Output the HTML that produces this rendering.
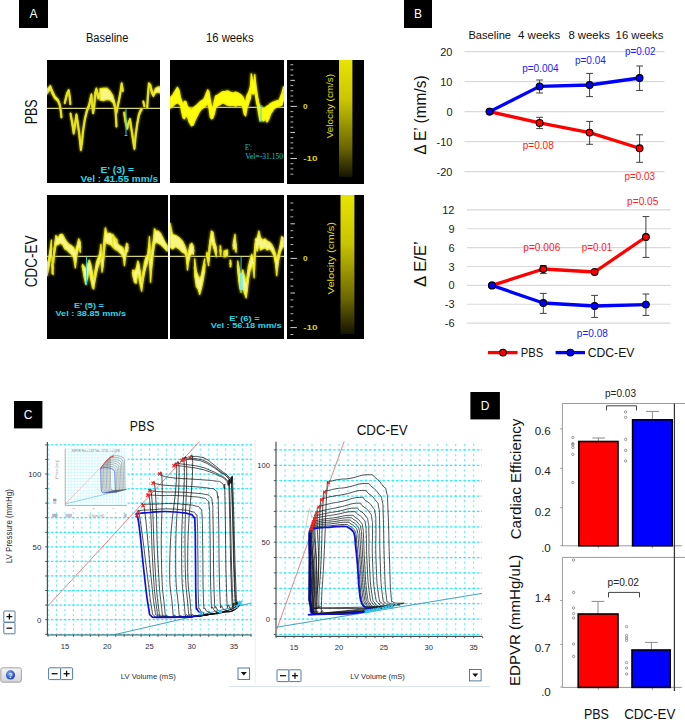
<!DOCTYPE html>
<html><head><meta charset="utf-8"><title>Figure</title>
<style>html,body{margin:0;padding:0;background:#fff;width:685px;height:720px;overflow:hidden}svg{display:block}text{font-family:"Liberation Sans",sans-serif}</style>
</head><body>
<svg width="685" height="720" viewBox="0 0 685 720" font-family="'Liberation Sans', sans-serif"><defs>
<filter id="blur0" filterUnits="userSpaceOnUse" x="0" y="0" width="685" height="720"><feGaussianBlur stdDeviation="0.35"/></filter>
<filter id="blur1" filterUnits="userSpaceOnUse" x="0" y="0" width="685" height="720"><feGaussianBlur stdDeviation="0.8"/></filter>
<linearGradient id="g1" x1="0" y1="0" x2="0" y2="1"><stop offset="0" stop-color="#e8e400"/><stop offset="0.35" stop-color="#c8c400"/><stop offset="0.75" stop-color="#6a6600"/><stop offset="1" stop-color="#141400"/></linearGradient>
<linearGradient id="g2" x1="0" y1="0" x2="0" y2="1"><stop offset="0" stop-color="#e8e400"/><stop offset="0.35" stop-color="#c8c400"/><stop offset="0.75" stop-color="#6a6600"/><stop offset="1" stop-color="#141400"/></linearGradient>
</defs><rect x="19" y="0" width="29" height="28" fill="#000" />
<text x="33.5" y="18.32" font-size="12" fill="#fff" text-anchor="middle" font-weight="normal">A</text>
<text x="86" y="42.4" font-size="12" fill="#111" text-anchor="start" font-weight="normal" textLength="42.4" lengthAdjust="spacingAndGlyphs">Baseline</text>
<text x="206" y="42.4" font-size="12" fill="#111" text-anchor="start" font-weight="normal" textLength="47.6" lengthAdjust="spacingAndGlyphs">16 weeks</text>
<text x="37.2" y="124.3" font-size="17" fill="#111" text-anchor="start" font-weight="normal" textLength="25" lengthAdjust="spacingAndGlyphs" transform="rotate(-90 37.2 124.3)">PBS</text>
<text x="37.2" y="287.2" font-size="17" fill="#111" text-anchor="start" font-weight="normal" textLength="51.8" lengthAdjust="spacingAndGlyphs" transform="rotate(-90 37.2 287.2)">CDC-EV</text>
<rect x="47" y="60" width="113" height="123" fill="#000" />
<svg x="47" y="60" width="113" height="123" overflow="hidden"><g transform="translate(-47,-60)">
<line x1="47" y1="108.3" x2="160" y2="108.3" stroke="#d4d47c" stroke-width="1.2" />
<path d="M47.00,89.44 50.33,85.56 52.00,89.72 54.78,95.83 58.11,99.44 59.78,104.17 60.89,111.00 61.44,116.78 L61.44,117.67 60.89,112.33 59.78,105.83 58.11,101.67 54.78,98.61 52.00,93.61 50.33,88.89 47.00,93.89 Z" fill="#9a9400" stroke="#9a9400" stroke-width="2.6" stroke-linejoin="round" stroke-linecap="round" filter="url(#blur1)" opacity="0.85"/>
<path d="M64.78,101.94 67.00,92.78 68.67,89.72 69.78,96.39 70.33,103.33 L70.33,104.44 69.78,98.06 68.67,91.39 67.00,95.00 64.78,103.61 Z" fill="#9a9400" stroke="#9a9400" stroke-width="2.6" stroke-linejoin="round" stroke-linecap="round" filter="url(#blur1)" opacity="0.85"/>
<path d="M70.56,113.06 72.56,123.33 73.67,131.39 75.33,121.39 76.44,113.89 77.56,120.56 79.22,132.50 80.33,142.22 80.89,148.33 82.00,140.56 83.11,129.44 84.78,118.33 87.00,109.44 89.22,103.89 90.33,98.33 91.44,93.89 92.00,101.94 93.11,111.94 94.22,105.00 95.33,91.11 96.44,88.06 98.11,95.56 100.33,91.67 102.56,89.44 107.00,88.89 L107.00,98.89 102.56,96.11 100.33,96.11 98.11,98.89 96.44,90.83 95.33,94.44 94.22,107.22 93.11,113.61 92.00,103.61 91.44,96.11 90.33,100.56 89.22,106.11 87.00,111.67 84.78,120.56 83.11,131.67 82.00,142.78 80.89,150.56 80.33,145.56 79.22,135.28 77.56,122.78 76.44,116.11 75.33,124.17 73.67,134.17 72.56,126.67 70.56,114.72 Z" fill="#9a9400" stroke="#9a9400" stroke-width="2.6" stroke-linejoin="round" stroke-linecap="round" filter="url(#blur1)" opacity="0.85"/>
<path d="M100.00,88.89 103.33,88.33 106.67,88.33 110.00,91.11 112.78,95.56 114.44,101.67 115.56,109.17 116.11,118.33 116.44,125.28 L116.44,126.94 116.11,120.56 115.56,111.94 114.44,106.11 112.78,102.22 110.00,100.00 106.67,99.44 103.33,100.56 100.00,100.00 Z" fill="#9a9400" stroke="#9a9400" stroke-width="2.6" stroke-linejoin="round" stroke-linecap="round" filter="url(#blur1)" opacity="0.85"/>
<path d="M116.67,110.56 117.22,106.94 118.89,99.44 120.56,90.56 121.67,82.78 122.78,89.72 L122.78,91.39 121.67,85.00 120.56,92.78 118.89,101.67 117.22,109.72 116.67,112.78 Z" fill="#9a9400" stroke="#9a9400" stroke-width="2.6" stroke-linejoin="round" stroke-linecap="round" filter="url(#blur1)" opacity="0.85"/>
<path d="M124.22,112.11 125.56,120.83 127.22,127.50 128.33,123.22 130.00,118.61 131.67,129.44 133.33,140.28 134.44,147.22 135.56,135.00 137.22,122.78 138.89,113.89 140.56,109.44 141.67,108.61 L141.67,110.28 140.56,111.67 138.89,116.11 137.22,125.00 135.56,137.22 134.44,149.44 133.33,143.06 131.67,131.67 130.00,120.28 128.33,124.56 127.22,129.17 125.56,122.50 124.22,113.44 Z" fill="#9a9400" stroke="#9a9400" stroke-width="2.6" stroke-linejoin="round" stroke-linecap="round" filter="url(#blur1)" opacity="0.85"/>
<path d="M143.33,101.22 144.44,105.67 L144.44,106.56 143.33,102.11 Z" fill="#9a9400" stroke="#9a9400" stroke-width="2.6" stroke-linejoin="round" stroke-linecap="round" filter="url(#blur1)" opacity="0.85"/>
<path d="M147.22,106.67 147.78,96.39 148.89,82.78 150.56,84.72 151.67,90.00 153.33,93.61 155.56,88.33 158.89,86.67 160.56,87.78 L160.56,93.33 158.89,92.22 155.56,92.78 153.33,96.39 151.67,93.33 150.56,87.50 148.89,85.00 147.78,98.06 147.22,107.78 Z" fill="#9a9400" stroke="#9a9400" stroke-width="2.6" stroke-linejoin="round" stroke-linecap="round" filter="url(#blur1)" opacity="0.85"/>
<polyline points="47.00,91.67 50.33,87.22 52.00,91.67 54.78,97.22 58.11,100.56 59.78,105.00 60.89,111.67 61.44,117.22" fill="none" stroke="#d8d41c" stroke-width="2.2" stroke-linejoin="round" stroke-linecap="round" filter="url(#blur0)"/>
<path d="M47.00,89.44 50.33,85.56 52.00,89.72 54.78,95.83 58.11,99.44 59.78,104.17 60.89,111.00 61.44,116.78 L61.44,117.67 60.89,112.33 59.78,105.83 58.11,101.67 54.78,98.61 52.00,93.61 50.33,88.89 47.00,93.89 Z" fill="#f8f680" stroke="#e8e41e" stroke-width="1.2" stroke-linejoin="round" stroke-linecap="round" filter="url(#blur0)"/>
<polyline points="64.78,102.78 67.00,93.89 68.67,90.56 69.78,97.22 70.33,103.89" fill="none" stroke="#d8d41c" stroke-width="2.2" stroke-linejoin="round" stroke-linecap="round" filter="url(#blur0)"/>
<path d="M64.78,101.94 67.00,92.78 68.67,89.72 69.78,96.39 70.33,103.33 L70.33,104.44 69.78,98.06 68.67,91.39 67.00,95.00 64.78,103.61 Z" fill="#f8f680" stroke="#e8e41e" stroke-width="1.2" stroke-linejoin="round" stroke-linecap="round" filter="url(#blur0)"/>
<polyline points="70.56,113.89 72.56,125.00 73.67,132.78 75.33,122.78 76.44,115.00 77.56,121.67 79.22,133.89 80.33,143.89 80.89,149.44 82.00,141.67 83.11,130.56 84.78,119.44 87.00,110.56 89.22,105.00 90.33,99.44 91.44,95.00 92.00,102.78 93.11,112.78 94.22,106.11 95.33,92.78 96.44,89.44 98.11,97.22 100.33,93.89 102.56,92.78 107.00,93.89" fill="none" stroke="#d8d41c" stroke-width="2.2" stroke-linejoin="round" stroke-linecap="round" filter="url(#blur0)"/>
<path d="M70.56,113.06 72.56,123.33 73.67,131.39 75.33,121.39 76.44,113.89 77.56,120.56 79.22,132.50 80.33,142.22 80.89,148.33 82.00,140.56 83.11,129.44 84.78,118.33 87.00,109.44 89.22,103.89 90.33,98.33 91.44,93.89 92.00,101.94 93.11,111.94 94.22,105.00 95.33,91.11 96.44,88.06 98.11,95.56 100.33,91.67 102.56,89.44 107.00,88.89 L107.00,98.89 102.56,96.11 100.33,96.11 98.11,98.89 96.44,90.83 95.33,94.44 94.22,107.22 93.11,113.61 92.00,103.61 91.44,96.11 90.33,100.56 89.22,106.11 87.00,111.67 84.78,120.56 83.11,131.67 82.00,142.78 80.89,150.56 80.33,145.56 79.22,135.28 77.56,122.78 76.44,116.11 75.33,124.17 73.67,134.17 72.56,126.67 70.56,114.72 Z" fill="#f8f680" stroke="#e8e41e" stroke-width="1.2" stroke-linejoin="round" stroke-linecap="round" filter="url(#blur0)"/>
<polyline points="100.00,94.44 103.33,94.44 106.67,93.89 110.00,95.56 112.78,98.89 114.44,103.89 115.56,110.56 116.11,119.44 116.44,126.11" fill="none" stroke="#d8d41c" stroke-width="2.2" stroke-linejoin="round" stroke-linecap="round" filter="url(#blur0)"/>
<path d="M100.00,88.89 103.33,88.33 106.67,88.33 110.00,91.11 112.78,95.56 114.44,101.67 115.56,109.17 116.11,118.33 116.44,125.28 L116.44,126.94 116.11,120.56 115.56,111.94 114.44,106.11 112.78,102.22 110.00,100.00 106.67,99.44 103.33,100.56 100.00,100.00 Z" fill="#f8f680" stroke="#e8e41e" stroke-width="1.2" stroke-linejoin="round" stroke-linecap="round" filter="url(#blur0)"/>
<polyline points="116.67,111.67 117.22,108.33 118.89,100.56 120.56,91.67 121.67,83.89 122.78,90.56" fill="none" stroke="#d8d41c" stroke-width="2.2" stroke-linejoin="round" stroke-linecap="round" filter="url(#blur0)"/>
<path d="M116.67,110.56 117.22,106.94 118.89,99.44 120.56,90.56 121.67,82.78 122.78,89.72 L122.78,91.39 121.67,85.00 120.56,92.78 118.89,101.67 117.22,109.72 116.67,112.78 Z" fill="#f8f680" stroke="#e8e41e" stroke-width="1.2" stroke-linejoin="round" stroke-linecap="round" filter="url(#blur0)"/>
<polyline points="124.22,112.78 125.56,121.67 127.22,128.33 128.33,123.89 130.00,119.44 131.67,130.56 133.33,141.67 134.44,148.33 135.56,136.11 137.22,123.89 138.89,115.00 140.56,110.56 141.67,109.44" fill="none" stroke="#d8d41c" stroke-width="2.2" stroke-linejoin="round" stroke-linecap="round" filter="url(#blur0)"/>
<path d="M124.22,112.11 125.56,120.83 127.22,127.50 128.33,123.22 130.00,118.61 131.67,129.44 133.33,140.28 134.44,147.22 135.56,135.00 137.22,122.78 138.89,113.89 140.56,109.44 141.67,108.61 L141.67,110.28 140.56,111.67 138.89,116.11 137.22,125.00 135.56,137.22 134.44,149.44 133.33,143.06 131.67,131.67 130.00,120.28 128.33,124.56 127.22,129.17 125.56,122.50 124.22,113.44 Z" fill="#f8f680" stroke="#e8e41e" stroke-width="1.2" stroke-linejoin="round" stroke-linecap="round" filter="url(#blur0)"/>
<polyline points="143.33,101.67 144.44,106.11" fill="none" stroke="#d8d41c" stroke-width="2.2" stroke-linejoin="round" stroke-linecap="round" filter="url(#blur0)"/>
<path d="M143.33,101.22 144.44,105.67 L144.44,106.56 143.33,102.11 Z" fill="#f8f680" stroke="#e8e41e" stroke-width="1.2" stroke-linejoin="round" stroke-linecap="round" filter="url(#blur0)"/>
<polyline points="147.22,107.22 147.78,97.22 148.89,83.89 150.56,86.11 151.67,91.67 153.33,95.00 155.56,90.56 158.89,89.44 160.56,90.56" fill="none" stroke="#d8d41c" stroke-width="2.2" stroke-linejoin="round" stroke-linecap="round" filter="url(#blur0)"/>
<path d="M147.22,106.67 147.78,96.39 148.89,82.78 150.56,84.72 151.67,90.00 153.33,93.61 155.56,88.33 158.89,86.67 160.56,87.78 L160.56,93.33 158.89,92.22 155.56,92.78 153.33,96.39 151.67,93.33 150.56,87.50 148.89,85.00 147.78,98.06 147.22,107.78 Z" fill="#f8f680" stroke="#e8e41e" stroke-width="1.2" stroke-linejoin="round" stroke-linecap="round" filter="url(#blur0)"/>
</g></svg>
<rect x="170" y="60" width="114" height="123" fill="#000" />
<svg x="170" y="60" width="114" height="123" overflow="hidden"><g transform="translate(-170,-60)">
<line x1="170" y1="107.4" x2="284" y2="107.4" stroke="#d4d47c" stroke-width="1.2" />
<path d="M170.00,97.77 172.63,95.14 175.25,90.76 177.44,87.26 179.19,90.76 180.51,97.77 181.82,101.27 183.13,103.90 184.45,101.27 185.76,101.27 187.51,106.52 189.26,108.27 191.45,109.15 193.20,108.27 194.96,106.52 197.15,104.77 198.90,103.02 200.65,101.27 202.40,100.39 204.15,98.64 205.90,94.26 207.65,89.89 208.97,91.64 210.28,99.52 211.59,106.52 212.91,107.40 214.22,101.27 215.53,96.02 217.72,95.14 219.91,93.39 222.54,91.64 225.17,91.64 227.63,90.83 230.25,92.15 232.88,93.02 235.51,92.15 238.13,93.02 240.76,94.77 242.51,96.52 244.26,100.03 245.58,101.78 246.89,95.65 248.64,92.15 250.39,86.89 251.27,73.76 252.58,79.89 253.90,82.51 254.77,74.63 256.09,86.89 257.40,95.65 258.71,102.65 260.03,106.16 261.78,107.91 263.53,108.78 265.28,107.91 267.03,106.16 268.78,105.28 270.53,103.53 272.29,102.65 274.04,101.78 276.66,100.90 279.29,100.03 281.92,93.02 283.49,86.89 L283.49,100.03 281.92,105.28 279.29,106.16 276.66,107.03 274.04,108.78 272.29,111.41 270.53,114.04 268.78,119.29 267.03,121.92 265.28,119.29 263.53,121.04 261.78,120.17 260.03,121.04 258.71,114.04 257.40,106.16 256.09,100.03 254.77,91.27 253.90,93.90 252.58,93.90 251.27,91.27 250.39,98.27 248.64,103.53 246.89,108.78 245.58,115.79 244.26,114.04 242.51,106.16 240.76,105.28 238.13,105.28 235.51,106.16 232.88,105.28 230.25,105.72 227.63,105.28 225.17,103.90 222.54,103.02 219.91,104.77 217.72,105.65 215.53,108.27 214.22,114.40 212.91,117.91 211.59,118.78 210.28,117.03 208.97,108.27 207.65,103.90 205.90,105.65 204.15,107.40 202.40,108.27 200.65,110.03 198.90,112.65 197.15,116.16 194.96,120.53 193.20,124.91 191.45,125.79 189.26,122.29 187.51,117.03 185.76,116.16 184.45,118.78 183.13,117.91 181.82,112.65 180.51,105.65 179.19,103.90 177.44,103.02 175.25,103.90 172.63,106.52 170.00,108.27 Z" fill="#9a9400" stroke="#9a9400" stroke-width="2.6" stroke-linejoin="round" stroke-linecap="round" filter="url(#blur1)" opacity="0.85"/>
<polyline points="170.00,103.02 172.63,100.83 175.25,97.33 177.44,95.14 179.19,97.33 180.51,101.71 181.82,106.96 183.13,110.90 184.45,110.03 185.76,108.71 187.51,111.78 189.26,115.28 191.45,117.47 193.20,116.59 194.96,113.53 197.15,110.46 198.90,107.84 200.65,105.65 202.40,104.33 204.15,103.02 205.90,99.96 207.65,96.89 208.97,99.96 210.28,108.27 211.59,112.65 212.91,112.65 214.22,107.84 215.53,102.15 217.72,100.39 219.91,99.08 222.54,97.33 225.17,97.77 227.63,98.06 230.25,98.93 232.88,99.15 235.51,99.15 238.13,99.15 240.76,100.03 242.51,101.34 244.26,107.03 245.58,108.78 246.89,102.22 248.64,97.84 250.39,92.58 251.27,82.51 252.58,86.89 253.90,88.20 254.77,82.95 256.09,93.46 257.40,100.90 258.71,108.35 260.03,113.60 261.78,114.04 263.53,114.91 265.28,113.60 267.03,114.04 268.78,112.29 270.53,108.78 272.29,107.03 274.04,105.28 276.66,103.97 279.29,103.09 281.92,99.15 283.49,93.46" fill="none" stroke="#e8e400" stroke-width="2.2" stroke-linejoin="round" stroke-linecap="round" filter="url(#blur0)"/>
<path d="M170.00,97.77 172.63,95.14 175.25,90.76 177.44,87.26 179.19,90.76 180.51,97.77 181.82,101.27 183.13,103.90 184.45,101.27 185.76,101.27 187.51,106.52 189.26,108.27 191.45,109.15 193.20,108.27 194.96,106.52 197.15,104.77 198.90,103.02 200.65,101.27 202.40,100.39 204.15,98.64 205.90,94.26 207.65,89.89 208.97,91.64 210.28,99.52 211.59,106.52 212.91,107.40 214.22,101.27 215.53,96.02 217.72,95.14 219.91,93.39 222.54,91.64 225.17,91.64 227.63,90.83 230.25,92.15 232.88,93.02 235.51,92.15 238.13,93.02 240.76,94.77 242.51,96.52 244.26,100.03 245.58,101.78 246.89,95.65 248.64,92.15 250.39,86.89 251.27,73.76 252.58,79.89 253.90,82.51 254.77,74.63 256.09,86.89 257.40,95.65 258.71,102.65 260.03,106.16 261.78,107.91 263.53,108.78 265.28,107.91 267.03,106.16 268.78,105.28 270.53,103.53 272.29,102.65 274.04,101.78 276.66,100.90 279.29,100.03 281.92,93.02 283.49,86.89 L283.49,100.03 281.92,105.28 279.29,106.16 276.66,107.03 274.04,108.78 272.29,111.41 270.53,114.04 268.78,119.29 267.03,121.92 265.28,119.29 263.53,121.04 261.78,120.17 260.03,121.04 258.71,114.04 257.40,106.16 256.09,100.03 254.77,91.27 253.90,93.90 252.58,93.90 251.27,91.27 250.39,98.27 248.64,103.53 246.89,108.78 245.58,115.79 244.26,114.04 242.51,106.16 240.76,105.28 238.13,105.28 235.51,106.16 232.88,105.28 230.25,105.72 227.63,105.28 225.17,103.90 222.54,103.02 219.91,104.77 217.72,105.65 215.53,108.27 214.22,114.40 212.91,117.91 211.59,118.78 210.28,117.03 208.97,108.27 207.65,103.90 205.90,105.65 204.15,107.40 202.40,108.27 200.65,110.03 198.90,112.65 197.15,116.16 194.96,120.53 193.20,124.91 191.45,125.79 189.26,122.29 187.51,117.03 185.76,116.16 184.45,118.78 183.13,117.91 181.82,112.65 180.51,105.65 179.19,103.90 177.44,103.02 175.25,103.90 172.63,106.52 170.00,108.27 Z" fill="#fcfc08" stroke="#f4f000" stroke-width="1.2" stroke-linejoin="round" stroke-linecap="round" filter="url(#blur0)"/>
</g></svg>
<rect x="47" y="195" width="121" height="144" fill="#000" />
<svg x="47" y="195" width="121" height="144" overflow="hidden"><g transform="translate(-47,-195)">
<line x1="47" y1="256.4" x2="168" y2="256.4" stroke="#d4d47c" stroke-width="1.2" />
<path d="M47.00,264.44 48.67,258.89 50.33,247.78 51.44,240.00 L51.44,256.67 50.33,258.89 48.67,268.89 47.00,275.56 Z" fill="#9a9400" stroke="#9a9400" stroke-width="2.6" stroke-linejoin="round" stroke-linecap="round" filter="url(#blur1)" opacity="0.85"/>
<path d="M52.00,256.67 53.11,262.22 L53.11,274.44 52.00,273.33 Z" fill="#9a9400" stroke="#9a9400" stroke-width="2.6" stroke-linejoin="round" stroke-linecap="round" filter="url(#blur1)" opacity="0.85"/>
<path d="M53.67,253.33 54.22,247.78 55.89,235.56 58.11,237.78 60.33,234.44 62.56,234.44 64.78,238.89 67.00,242.22 69.22,244.44 71.44,245.56 73.67,247.78 75.33,251.11 77.00,245.56 78.67,238.89 80.33,242.22 L80.33,252.22 78.67,247.78 77.00,254.44 75.33,267.78 73.67,257.78 71.44,254.44 69.22,252.22 67.00,250.00 64.78,248.89 62.56,244.44 60.33,243.33 58.11,244.44 55.89,245.56 54.22,255.56 53.67,262.22 Z" fill="#9a9400" stroke="#9a9400" stroke-width="2.6" stroke-linejoin="round" stroke-linecap="round" filter="url(#blur1)" opacity="0.85"/>
<path d="M82.56,264.44 84.22,266.67 85.89,268.89 87.56,264.44 89.22,260.00 90.89,264.44 92.56,273.33 93.67,280.00 94.78,272.22 96.44,262.22 98.11,257.78 99.78,253.33 100.89,244.44 102.00,258.89 103.11,253.33 104.22,236.67 105.33,227.78 107.00,233.33 110.33,233.33 113.67,236.67 117.00,240.00 L117.00,250.00 113.67,247.78 110.33,244.44 107.00,243.33 105.33,242.22 104.22,253.33 103.11,266.67 102.00,272.22 100.89,256.67 99.78,262.22 98.11,266.67 96.44,273.33 94.78,282.22 93.67,288.89 92.56,287.78 90.89,280.00 89.22,271.11 87.56,277.78 85.89,284.44 84.22,277.78 82.56,267.78 Z" fill="#9a9400" stroke="#9a9400" stroke-width="2.6" stroke-linejoin="round" stroke-linecap="round" filter="url(#blur1)" opacity="0.85"/>
<path d="M112.78,234.44 115.00,238.89 117.22,243.33 119.44,245.56 121.67,246.67 123.33,248.89 124.44,253.33 125.56,247.78 126.67,243.33 127.78,244.44 L127.78,251.11 126.67,252.22 125.56,256.67 124.44,265.56 123.33,257.78 121.67,254.44 119.44,252.22 117.22,250.00 115.00,248.89 112.78,244.44 Z" fill="#9a9400" stroke="#9a9400" stroke-width="2.6" stroke-linejoin="round" stroke-linecap="round" filter="url(#blur1)" opacity="0.85"/>
<path d="M132.78,270.00 134.44,271.11 136.11,268.89 137.78,261.11 138.89,263.33 140.56,273.33 141.67,282.22 142.78,273.33 144.44,262.22 146.11,256.67 147.78,254.44 149.44,236.67 150.56,257.78 151.67,251.11 153.33,240.00 154.44,228.89 156.11,231.11 158.33,231.11 160.56,233.33 162.78,237.78 165.00,242.22 167.22,245.56 L167.22,251.11 165.00,248.89 162.78,246.67 160.56,244.44 158.33,243.33 156.11,242.22 154.44,244.44 153.33,253.33 151.67,268.89 150.56,282.22 149.44,253.33 147.78,262.22 146.11,266.67 144.44,273.33 142.78,282.22 141.67,291.11 140.56,286.67 138.89,277.78 137.78,274.44 136.11,283.33 134.44,282.22 132.78,275.56 Z" fill="#9a9400" stroke="#9a9400" stroke-width="2.6" stroke-linejoin="round" stroke-linecap="round" filter="url(#blur1)" opacity="0.85"/>
<polyline points="47.00,270.00 48.67,263.89 50.33,253.33 51.44,248.33" fill="none" stroke="#d8d41c" stroke-width="2.2" stroke-linejoin="round" stroke-linecap="round" filter="url(#blur0)"/>
<path d="M47.00,264.44 48.67,258.89 50.33,247.78 51.44,240.00 L51.44,256.67 50.33,258.89 48.67,268.89 47.00,275.56 Z" fill="#f8f680" stroke="#e8e41e" stroke-width="1.2" stroke-linejoin="round" stroke-linecap="round" filter="url(#blur0)"/>
<polyline points="52.00,265.00 53.11,268.33" fill="none" stroke="#d8d41c" stroke-width="2.2" stroke-linejoin="round" stroke-linecap="round" filter="url(#blur0)"/>
<path d="M52.00,256.67 53.11,262.22 L53.11,274.44 52.00,273.33 Z" fill="#f8f680" stroke="#e8e41e" stroke-width="1.2" stroke-linejoin="round" stroke-linecap="round" filter="url(#blur0)"/>
<polyline points="53.67,257.78 54.22,251.67 55.89,240.56 58.11,241.11 60.33,238.89 62.56,239.44 64.78,243.89 67.00,246.11 69.22,248.33 71.44,250.00 73.67,252.78 75.33,259.44 77.00,250.00 78.67,243.33 80.33,247.22" fill="none" stroke="#d8d41c" stroke-width="2.2" stroke-linejoin="round" stroke-linecap="round" filter="url(#blur0)"/>
<path d="M53.67,253.33 54.22,247.78 55.89,235.56 58.11,237.78 60.33,234.44 62.56,234.44 64.78,238.89 67.00,242.22 69.22,244.44 71.44,245.56 73.67,247.78 75.33,251.11 77.00,245.56 78.67,238.89 80.33,242.22 L80.33,252.22 78.67,247.78 77.00,254.44 75.33,267.78 73.67,257.78 71.44,254.44 69.22,252.22 67.00,250.00 64.78,248.89 62.56,244.44 60.33,243.33 58.11,244.44 55.89,245.56 54.22,255.56 53.67,262.22 Z" fill="#f8f680" stroke="#e8e41e" stroke-width="1.2" stroke-linejoin="round" stroke-linecap="round" filter="url(#blur0)"/>
<polyline points="82.56,266.11 84.22,272.22 85.89,276.67 87.56,271.11 89.22,265.56 90.89,272.22 92.56,280.56 93.67,284.44 94.78,277.22 96.44,267.78 98.11,262.22 99.78,257.78 100.89,250.56 102.00,265.56 103.11,260.00 104.22,245.00 105.33,235.00 107.00,238.33 110.33,238.89 113.67,242.22 117.00,245.00" fill="none" stroke="#d8d41c" stroke-width="2.2" stroke-linejoin="round" stroke-linecap="round" filter="url(#blur0)"/>
<path d="M82.56,264.44 84.22,266.67 85.89,268.89 87.56,264.44 89.22,260.00 90.89,264.44 92.56,273.33 93.67,280.00 94.78,272.22 96.44,262.22 98.11,257.78 99.78,253.33 100.89,244.44 102.00,258.89 103.11,253.33 104.22,236.67 105.33,227.78 107.00,233.33 110.33,233.33 113.67,236.67 117.00,240.00 L117.00,250.00 113.67,247.78 110.33,244.44 107.00,243.33 105.33,242.22 104.22,253.33 103.11,266.67 102.00,272.22 100.89,256.67 99.78,262.22 98.11,266.67 96.44,273.33 94.78,282.22 93.67,288.89 92.56,287.78 90.89,280.00 89.22,271.11 87.56,277.78 85.89,284.44 84.22,277.78 82.56,267.78 Z" fill="#f8f680" stroke="#e8e41e" stroke-width="1.2" stroke-linejoin="round" stroke-linecap="round" filter="url(#blur0)"/>
<polyline points="112.78,239.44 115.00,243.89 117.22,246.67 119.44,248.89 121.67,250.56 123.33,253.33 124.44,259.44 125.56,252.22 126.67,247.78 127.78,247.78" fill="none" stroke="#d8d41c" stroke-width="2.2" stroke-linejoin="round" stroke-linecap="round" filter="url(#blur0)"/>
<path d="M112.78,234.44 115.00,238.89 117.22,243.33 119.44,245.56 121.67,246.67 123.33,248.89 124.44,253.33 125.56,247.78 126.67,243.33 127.78,244.44 L127.78,251.11 126.67,252.22 125.56,256.67 124.44,265.56 123.33,257.78 121.67,254.44 119.44,252.22 117.22,250.00 115.00,248.89 112.78,244.44 Z" fill="#f8f680" stroke="#e8e41e" stroke-width="1.2" stroke-linejoin="round" stroke-linecap="round" filter="url(#blur0)"/>
<polyline points="132.78,272.78 134.44,276.67 136.11,276.11 137.78,267.78 138.89,270.56 140.56,280.00 141.67,286.67 142.78,277.78 144.44,267.78 146.11,261.67 147.78,258.33 149.44,245.00 150.56,270.00 151.67,260.00 153.33,246.67 154.44,236.67 156.11,236.67 158.33,237.22 160.56,238.89 162.78,242.22 165.00,245.56 167.22,248.33" fill="none" stroke="#d8d41c" stroke-width="2.2" stroke-linejoin="round" stroke-linecap="round" filter="url(#blur0)"/>
<path d="M132.78,270.00 134.44,271.11 136.11,268.89 137.78,261.11 138.89,263.33 140.56,273.33 141.67,282.22 142.78,273.33 144.44,262.22 146.11,256.67 147.78,254.44 149.44,236.67 150.56,257.78 151.67,251.11 153.33,240.00 154.44,228.89 156.11,231.11 158.33,231.11 160.56,233.33 162.78,237.78 165.00,242.22 167.22,245.56 L167.22,251.11 165.00,248.89 162.78,246.67 160.56,244.44 158.33,243.33 156.11,242.22 154.44,244.44 153.33,253.33 151.67,268.89 150.56,282.22 149.44,253.33 147.78,262.22 146.11,266.67 144.44,273.33 142.78,282.22 141.67,291.11 140.56,286.67 138.89,277.78 137.78,274.44 136.11,283.33 134.44,282.22 132.78,275.56 Z" fill="#f8f680" stroke="#e8e41e" stroke-width="1.2" stroke-linejoin="round" stroke-linecap="round" filter="url(#blur0)"/>
</g></svg>
<rect x="170" y="195" width="114" height="144" fill="#000" />
<svg x="170" y="195" width="114" height="144" overflow="hidden"><g transform="translate(-170,-195)">
<line x1="170" y1="256.4" x2="284" y2="256.4" stroke="#d4d47c" stroke-width="1.2" />
<path d="M170.00,223.33 170.78,226.67 172.44,234.44 175.78,235.56 179.11,237.78 182.44,241.11 184.67,245.56 186.33,250.00 187.44,256.67 188.56,251.11 190.22,244.44 191.89,243.33 193.56,246.67 L193.56,254.44 191.89,253.33 190.22,255.56 188.56,262.22 187.44,270.00 186.33,256.67 184.67,253.33 182.44,252.22 179.11,248.89 175.78,246.67 172.44,248.89 170.78,247.78 170.00,246.67 Z" fill="#9a9400" stroke="#9a9400" stroke-width="2.6" stroke-linejoin="round" stroke-linecap="round" filter="url(#blur1)" opacity="0.85"/>
<path d="M194.67,258.89 196.33,271.11 198.00,275.56 199.67,278.89 201.33,275.56 203.00,266.67 204.67,258.89 L204.67,271.11 203.00,281.11 201.33,288.89 199.67,294.44 198.00,288.89 196.33,286.67 194.67,275.56 Z" fill="#9a9400" stroke="#9a9400" stroke-width="2.6" stroke-linejoin="round" stroke-linecap="round" filter="url(#blur1)" opacity="0.85"/>
<path d="M206.89,252.22 208.56,256.67 209.67,242.22 211.33,231.11 213.00,232.22 214.67,242.22 216.33,247.78 L216.33,256.67 214.67,251.11 213.00,245.56 211.33,242.22 209.67,251.11 208.56,265.56 206.89,256.67 Z" fill="#9a9400" stroke="#9a9400" stroke-width="2.6" stroke-linejoin="round" stroke-linecap="round" filter="url(#blur1)" opacity="0.85"/>
<path d="M220.22,245.56 220.78,247.78 L220.78,255.56 220.22,254.44 Z" fill="#9a9400" stroke="#9a9400" stroke-width="2.6" stroke-linejoin="round" stroke-linecap="round" filter="url(#blur1)" opacity="0.85"/>
<path d="M224.11,251.11 226.89,251.11 L226.89,255.56 224.11,256.67 Z" fill="#9a9400" stroke="#9a9400" stroke-width="2.6" stroke-linejoin="round" stroke-linecap="round" filter="url(#blur1)" opacity="0.85"/>
<path d="M230.22,260.00 230.78,261.11 L230.78,266.67 230.22,266.67 Z" fill="#9a9400" stroke="#9a9400" stroke-width="2.6" stroke-linejoin="round" stroke-linecap="round" filter="url(#blur1)" opacity="0.85"/>
<path d="M225.00,251.11 227.22,250.00 L227.22,255.56 225.00,256.67 Z" fill="#9a9400" stroke="#9a9400" stroke-width="2.6" stroke-linejoin="round" stroke-linecap="round" filter="url(#blur1)" opacity="0.85"/>
<path d="M233.33,242.22 235.00,234.44 236.11,245.56 L236.11,252.22 235.00,248.89 233.33,248.89 Z" fill="#9a9400" stroke="#9a9400" stroke-width="2.6" stroke-linejoin="round" stroke-linecap="round" filter="url(#blur1)" opacity="0.85"/>
<path d="M237.78,261.11 238.89,266.67 240.00,273.33 241.11,272.22 242.78,270.00 244.44,275.56 246.11,282.22 247.22,275.56 248.33,266.67 250.00,260.00 251.67,254.44 252.78,256.67 254.11,262.22 254.78,248.89 255.56,238.89 257.22,237.78 258.89,231.11 260.56,237.78 262.78,240.00 265.00,238.89 267.22,241.11 269.44,242.22 271.67,244.44 273.89,248.89 275.56,254.44 276.67,258.89 278.33,253.33 280.00,245.56 281.67,236.67 283.33,237.78 L283.33,246.67 281.67,248.89 280.00,253.33 278.33,262.22 276.67,275.56 275.56,264.44 273.89,255.56 271.67,251.11 269.44,248.89 267.22,250.00 265.00,247.78 262.78,248.89 260.56,250.00 258.89,245.56 257.22,251.11 255.56,248.89 254.78,256.67 254.11,277.78 252.78,264.44 251.67,266.67 250.00,271.11 248.33,280.00 247.22,291.11 246.11,297.78 244.44,293.33 242.78,286.67 241.11,292.22 240.00,288.89 238.89,282.22 237.78,270.00 Z" fill="#9a9400" stroke="#9a9400" stroke-width="2.6" stroke-linejoin="round" stroke-linecap="round" filter="url(#blur1)" opacity="0.85"/>
<polyline points="170.00,235.00 170.78,237.22 172.44,241.67 175.78,241.11 179.11,243.33 182.44,246.67 184.67,249.44 186.33,253.33 187.44,263.33 188.56,256.67 190.22,250.00 191.89,248.33 193.56,250.56" fill="none" stroke="#d8d41c" stroke-width="2.2" stroke-linejoin="round" stroke-linecap="round" filter="url(#blur0)"/>
<path d="M170.00,223.33 170.78,226.67 172.44,234.44 175.78,235.56 179.11,237.78 182.44,241.11 184.67,245.56 186.33,250.00 187.44,256.67 188.56,251.11 190.22,244.44 191.89,243.33 193.56,246.67 L193.56,254.44 191.89,253.33 190.22,255.56 188.56,262.22 187.44,270.00 186.33,256.67 184.67,253.33 182.44,252.22 179.11,248.89 175.78,246.67 172.44,248.89 170.78,247.78 170.00,246.67 Z" fill="#f8f680" stroke="#e8e41e" stroke-width="1.2" stroke-linejoin="round" stroke-linecap="round" filter="url(#blur0)"/>
<polyline points="194.67,267.22 196.33,278.89 198.00,282.22 199.67,286.67 201.33,282.22 203.00,273.89 204.67,265.00" fill="none" stroke="#d8d41c" stroke-width="2.2" stroke-linejoin="round" stroke-linecap="round" filter="url(#blur0)"/>
<path d="M194.67,258.89 196.33,271.11 198.00,275.56 199.67,278.89 201.33,275.56 203.00,266.67 204.67,258.89 L204.67,271.11 203.00,281.11 201.33,288.89 199.67,294.44 198.00,288.89 196.33,286.67 194.67,275.56 Z" fill="#f8f680" stroke="#e8e41e" stroke-width="1.2" stroke-linejoin="round" stroke-linecap="round" filter="url(#blur0)"/>
<polyline points="206.89,254.44 208.56,261.11 209.67,246.67 211.33,236.67 213.00,238.89 214.67,246.67 216.33,252.22" fill="none" stroke="#d8d41c" stroke-width="2.2" stroke-linejoin="round" stroke-linecap="round" filter="url(#blur0)"/>
<path d="M206.89,252.22 208.56,256.67 209.67,242.22 211.33,231.11 213.00,232.22 214.67,242.22 216.33,247.78 L216.33,256.67 214.67,251.11 213.00,245.56 211.33,242.22 209.67,251.11 208.56,265.56 206.89,256.67 Z" fill="#f8f680" stroke="#e8e41e" stroke-width="1.2" stroke-linejoin="round" stroke-linecap="round" filter="url(#blur0)"/>
<polyline points="220.22,250.00 220.78,251.67" fill="none" stroke="#d8d41c" stroke-width="2.2" stroke-linejoin="round" stroke-linecap="round" filter="url(#blur0)"/>
<path d="M220.22,245.56 220.78,247.78 L220.78,255.56 220.22,254.44 Z" fill="#f8f680" stroke="#e8e41e" stroke-width="1.2" stroke-linejoin="round" stroke-linecap="round" filter="url(#blur0)"/>
<polyline points="224.11,253.89 226.89,253.33" fill="none" stroke="#d8d41c" stroke-width="2.2" stroke-linejoin="round" stroke-linecap="round" filter="url(#blur0)"/>
<path d="M224.11,251.11 226.89,251.11 L226.89,255.56 224.11,256.67 Z" fill="#f8f680" stroke="#e8e41e" stroke-width="1.2" stroke-linejoin="round" stroke-linecap="round" filter="url(#blur0)"/>
<polyline points="230.22,263.33 230.78,263.89" fill="none" stroke="#d8d41c" stroke-width="2.2" stroke-linejoin="round" stroke-linecap="round" filter="url(#blur0)"/>
<path d="M230.22,260.00 230.78,261.11 L230.78,266.67 230.22,266.67 Z" fill="#f8f680" stroke="#e8e41e" stroke-width="1.2" stroke-linejoin="round" stroke-linecap="round" filter="url(#blur0)"/>
<polyline points="225.00,253.89 227.22,252.78" fill="none" stroke="#d8d41c" stroke-width="2.2" stroke-linejoin="round" stroke-linecap="round" filter="url(#blur0)"/>
<path d="M225.00,251.11 227.22,250.00 L227.22,255.56 225.00,256.67 Z" fill="#f8f680" stroke="#e8e41e" stroke-width="1.2" stroke-linejoin="round" stroke-linecap="round" filter="url(#blur0)"/>
<polyline points="233.33,245.56 235.00,241.67 236.11,248.89" fill="none" stroke="#d8d41c" stroke-width="2.2" stroke-linejoin="round" stroke-linecap="round" filter="url(#blur0)"/>
<path d="M233.33,242.22 235.00,234.44 236.11,245.56 L236.11,252.22 235.00,248.89 233.33,248.89 Z" fill="#f8f680" stroke="#e8e41e" stroke-width="1.2" stroke-linejoin="round" stroke-linecap="round" filter="url(#blur0)"/>
<polyline points="237.78,265.56 238.89,274.44 240.00,281.11 241.11,282.22 242.78,278.33 244.44,284.44 246.11,290.00 247.22,283.33 248.33,273.33 250.00,265.56 251.67,260.56 252.78,260.56 254.11,270.00 254.78,252.78 255.56,243.89 257.22,244.44 258.89,238.33 260.56,243.89 262.78,244.44 265.00,243.33 267.22,245.56 269.44,245.56 271.67,247.78 273.89,252.22 275.56,259.44 276.67,267.22 278.33,257.78 280.00,249.44 281.67,242.78 283.33,242.22" fill="none" stroke="#d8d41c" stroke-width="2.2" stroke-linejoin="round" stroke-linecap="round" filter="url(#blur0)"/>
<path d="M237.78,261.11 238.89,266.67 240.00,273.33 241.11,272.22 242.78,270.00 244.44,275.56 246.11,282.22 247.22,275.56 248.33,266.67 250.00,260.00 251.67,254.44 252.78,256.67 254.11,262.22 254.78,248.89 255.56,238.89 257.22,237.78 258.89,231.11 260.56,237.78 262.78,240.00 265.00,238.89 267.22,241.11 269.44,242.22 271.67,244.44 273.89,248.89 275.56,254.44 276.67,258.89 278.33,253.33 280.00,245.56 281.67,236.67 283.33,237.78 L283.33,246.67 281.67,248.89 280.00,253.33 278.33,262.22 276.67,275.56 275.56,264.44 273.89,255.56 271.67,251.11 269.44,248.89 267.22,250.00 265.00,247.78 262.78,248.89 260.56,250.00 258.89,245.56 257.22,251.11 255.56,248.89 254.78,256.67 254.11,277.78 252.78,264.44 251.67,266.67 250.00,271.11 248.33,280.00 247.22,291.11 246.11,297.78 244.44,293.33 242.78,286.67 241.11,292.22 240.00,288.89 238.89,282.22 237.78,270.00 Z" fill="#f8f680" stroke="#e8e41e" stroke-width="1.2" stroke-linejoin="round" stroke-linecap="round" filter="url(#blur0)"/>
</g></svg>
<line x1="126" y1="108.5" x2="126" y2="135.5" stroke="#28d8e8" stroke-width="0.9" />
<line x1="124.5" y1="135.5" x2="127.5" y2="135.5" stroke="#28d8e8" stroke-width="0.9" />
<line x1="261" y1="106" x2="261" y2="121" stroke="#28d8e8" stroke-width="0.9" />
<line x1="259.5" y1="106" x2="262.5" y2="106" stroke="#28d8e8" stroke-width="0.9" />
<line x1="259.5" y1="121" x2="262.5" y2="121" stroke="#28d8e8" stroke-width="0.9" />
<line x1="86.5" y1="256.4" x2="86.5" y2="285" stroke="#28d8e8" stroke-width="0.9" />
<line x1="241.1" y1="256.7" x2="241.1" y2="292.8" stroke="#1aa8b0" stroke-width="1.2" />
<rect x="240.2" y="273" width="2.6" height="17" fill="#80f0e0" />
<text x="100.6" y="173.1" font-size="8.2" fill="#28d8e8" text-anchor="start" font-weight="bold" textLength="33.5" lengthAdjust="spacingAndGlyphs">E' (3) =</text>
<text x="80.5" y="181.7" font-size="8.2" fill="#28d8e8" text-anchor="start" font-weight="bold" textLength="77.5" lengthAdjust="spacingAndGlyphs">Vel : 41.55 mm/s</text>
<text x="245" y="150" font-size="8.4" fill="#10c8d0" text-anchor="start" font-weight="normal" textLength="7" lengthAdjust="spacingAndGlyphs" style="font-family:'Liberation Serif',serif">E':</text>
<text x="245.2" y="159.1" font-size="8.4" fill="#10c8d0" text-anchor="start" font-weight="normal" textLength="38" lengthAdjust="spacingAndGlyphs" style="font-family:'Liberation Serif',serif">Vel=-31.150</text>
<text x="74" y="307.9" font-size="7.4" fill="#28d8e8" text-anchor="start" font-weight="bold" textLength="29.9" lengthAdjust="spacingAndGlyphs">E' (5) =</text>
<text x="55.5" y="316" font-size="7.2" fill="#28d8e8" text-anchor="start" font-weight="bold" textLength="70.5" lengthAdjust="spacingAndGlyphs">Vel : 38.85 mm/s</text>
<text x="229.2" y="320.5" font-size="7.4" fill="#28d8e8" text-anchor="start" font-weight="bold" textLength="30.6" lengthAdjust="spacingAndGlyphs">E' (6) =</text>
<text x="210.8" y="328.4" font-size="7.4" fill="#28d8e8" text-anchor="start" font-weight="bold" textLength="70.9" lengthAdjust="spacingAndGlyphs">Vel : 56.18 mm/s</text>
<rect x="287" y="60" width="77" height="124" fill="#000" />
<rect x="339" y="60" width="13.399999999999977" height="117" fill="url(#g1)" />
<line x1="290.4" y1="64.72" x2="293.29999999999995" y2="64.72" stroke="#b8b8b8" stroke-width="1" />
<line x1="290.4" y1="69.93" x2="293.29999999999995" y2="69.93" stroke="#b8b8b8" stroke-width="1" />
<line x1="290.4" y1="75.14000000000001" x2="293.29999999999995" y2="75.14000000000001" stroke="#b8b8b8" stroke-width="1" />
<line x1="290.4" y1="80.35000000000001" x2="295.0" y2="80.35000000000001" stroke="#d0d0d0" stroke-width="1" />
<line x1="290.4" y1="85.56" x2="293.29999999999995" y2="85.56" stroke="#b8b8b8" stroke-width="1" />
<line x1="290.4" y1="90.77000000000001" x2="293.29999999999995" y2="90.77000000000001" stroke="#b8b8b8" stroke-width="1" />
<line x1="290.4" y1="95.98" x2="293.29999999999995" y2="95.98" stroke="#b8b8b8" stroke-width="1" />
<line x1="290.4" y1="101.19000000000001" x2="293.29999999999995" y2="101.19000000000001" stroke="#b8b8b8" stroke-width="1" />
<line x1="290.4" y1="106.4" x2="296.9" y2="106.4" stroke="#d0d0d0" stroke-width="1" />
<line x1="290.4" y1="111.61" x2="293.29999999999995" y2="111.61" stroke="#b8b8b8" stroke-width="1" />
<line x1="290.4" y1="116.82000000000001" x2="293.29999999999995" y2="116.82000000000001" stroke="#b8b8b8" stroke-width="1" />
<line x1="290.4" y1="122.03" x2="293.29999999999995" y2="122.03" stroke="#b8b8b8" stroke-width="1" />
<line x1="290.4" y1="127.24000000000001" x2="293.29999999999995" y2="127.24000000000001" stroke="#b8b8b8" stroke-width="1" />
<line x1="290.4" y1="132.45000000000002" x2="295.0" y2="132.45000000000002" stroke="#d0d0d0" stroke-width="1" />
<line x1="290.4" y1="137.66" x2="293.29999999999995" y2="137.66" stroke="#b8b8b8" stroke-width="1" />
<line x1="290.4" y1="142.87" x2="293.29999999999995" y2="142.87" stroke="#b8b8b8" stroke-width="1" />
<line x1="290.4" y1="148.08" x2="293.29999999999995" y2="148.08" stroke="#b8b8b8" stroke-width="1" />
<line x1="290.4" y1="153.29000000000002" x2="293.29999999999995" y2="153.29000000000002" stroke="#b8b8b8" stroke-width="1" />
<line x1="290.4" y1="158.5" x2="296.9" y2="158.5" stroke="#d0d0d0" stroke-width="1" />
<line x1="290.4" y1="163.71" x2="293.29999999999995" y2="163.71" stroke="#b8b8b8" stroke-width="1" />
<line x1="290.4" y1="168.92000000000002" x2="293.29999999999995" y2="168.92000000000002" stroke="#b8b8b8" stroke-width="1" />
<line x1="290.4" y1="174.13" x2="293.29999999999995" y2="174.13" stroke="#b8b8b8" stroke-width="1" />
<text x="303" y="108.9" font-size="7.2" fill="#dcd800" text-anchor="start" font-weight="bold" textLength="4.6" lengthAdjust="spacingAndGlyphs">0</text>
<text x="303.3" y="161.0" font-size="7.2" fill="#dcd800" text-anchor="start" font-weight="bold" textLength="14.3" lengthAdjust="spacingAndGlyphs">-10</text>
<text x="332.6" y="138.3" font-size="8.6" fill="#e0dc10" text-anchor="start" font-weight="normal" textLength="64.4" lengthAdjust="spacingAndGlyphs" transform="rotate(-90 332.6 138.3)">Velocity (cm/s)</text>
<rect x="287" y="195" width="77" height="144" fill="#000" />
<rect x="340.5" y="195" width="13.899999999999977" height="139" fill="url(#g2)" />
<line x1="290.4" y1="203.03999999999996" x2="293.29999999999995" y2="203.03999999999996" stroke="#b8b8b8" stroke-width="1" />
<line x1="290.4" y1="209.95999999999998" x2="293.29999999999995" y2="209.95999999999998" stroke="#b8b8b8" stroke-width="1" />
<line x1="290.4" y1="216.88" x2="293.29999999999995" y2="216.88" stroke="#b8b8b8" stroke-width="1" />
<line x1="290.4" y1="223.79999999999998" x2="295.0" y2="223.79999999999998" stroke="#d0d0d0" stroke-width="1" />
<line x1="290.4" y1="230.71999999999997" x2="293.29999999999995" y2="230.71999999999997" stroke="#b8b8b8" stroke-width="1" />
<line x1="290.4" y1="237.64" x2="293.29999999999995" y2="237.64" stroke="#b8b8b8" stroke-width="1" />
<line x1="290.4" y1="244.55999999999997" x2="293.29999999999995" y2="244.55999999999997" stroke="#b8b8b8" stroke-width="1" />
<line x1="290.4" y1="251.48" x2="293.29999999999995" y2="251.48" stroke="#b8b8b8" stroke-width="1" />
<line x1="290.4" y1="258.4" x2="296.9" y2="258.4" stroke="#d0d0d0" stroke-width="1" />
<line x1="290.4" y1="265.32" x2="293.29999999999995" y2="265.32" stroke="#b8b8b8" stroke-width="1" />
<line x1="290.4" y1="272.23999999999995" x2="293.29999999999995" y2="272.23999999999995" stroke="#b8b8b8" stroke-width="1" />
<line x1="290.4" y1="279.15999999999997" x2="293.29999999999995" y2="279.15999999999997" stroke="#b8b8b8" stroke-width="1" />
<line x1="290.4" y1="286.08" x2="293.29999999999995" y2="286.08" stroke="#b8b8b8" stroke-width="1" />
<line x1="290.4" y1="293.0" x2="295.0" y2="293.0" stroke="#d0d0d0" stroke-width="1" />
<line x1="290.4" y1="299.91999999999996" x2="293.29999999999995" y2="299.91999999999996" stroke="#b8b8b8" stroke-width="1" />
<line x1="290.4" y1="306.84" x2="293.29999999999995" y2="306.84" stroke="#b8b8b8" stroke-width="1" />
<line x1="290.4" y1="313.76" x2="293.29999999999995" y2="313.76" stroke="#b8b8b8" stroke-width="1" />
<line x1="290.4" y1="320.67999999999995" x2="293.29999999999995" y2="320.67999999999995" stroke="#b8b8b8" stroke-width="1" />
<line x1="290.4" y1="327.59999999999997" x2="296.9" y2="327.59999999999997" stroke="#d0d0d0" stroke-width="1" />
<line x1="290.4" y1="334.52" x2="293.29999999999995" y2="334.52" stroke="#b8b8b8" stroke-width="1" />
<text x="303" y="260.9" font-size="7.2" fill="#dcd800" text-anchor="start" font-weight="bold" textLength="4.6" lengthAdjust="spacingAndGlyphs">0</text>
<text x="303.3" y="330.09999999999997" font-size="7.2" fill="#dcd800" text-anchor="start" font-weight="bold" textLength="14.3" lengthAdjust="spacingAndGlyphs">-10</text>
<text x="333.6" y="294.4" font-size="8.6" fill="#e0dc10" text-anchor="start" font-weight="normal" textLength="72.5" lengthAdjust="spacingAndGlyphs" transform="rotate(-90 333.6 294.4)">Velocity (cm/s)</text>
<rect x="404" y="0" width="28" height="28" fill="#000" />
<text x="418.0" y="18.32" font-size="12" fill="#fff" text-anchor="middle" font-weight="normal">B</text>
<text x="468.4" y="39.3" font-size="11.5" fill="#111" text-anchor="start" font-weight="normal" textLength="42.6" lengthAdjust="spacingAndGlyphs">Baseline</text>
<text x="518" y="39.3" font-size="11.5" fill="#111" text-anchor="start" font-weight="normal" textLength="42.3" lengthAdjust="spacingAndGlyphs">4 weeks</text>
<text x="568.4" y="39.3" font-size="11.5" fill="#111" text-anchor="start" font-weight="normal" textLength="41.6" lengthAdjust="spacingAndGlyphs">8 weeks</text>
<text x="615.6" y="39.3" font-size="11.5" fill="#111" text-anchor="start" font-weight="normal" textLength="47.8" lengthAdjust="spacingAndGlyphs">16 weeks</text>
<line x1="464.5" y1="51.599999999999994" x2="664.4" y2="51.599999999999994" stroke="#d9d9d9" stroke-width="1.1" />
<text x="452.5" y="55.599999999999994" font-size="11" fill="#222" text-anchor="end" font-weight="normal">20</text>
<line x1="464.5" y1="81.6" x2="664.4" y2="81.6" stroke="#d9d9d9" stroke-width="1.1" />
<text x="452.5" y="85.6" font-size="11" fill="#222" text-anchor="end" font-weight="normal">10</text>
<line x1="464.5" y1="111.6" x2="664.4" y2="111.6" stroke="#d9d9d9" stroke-width="1.1" />
<text x="452.5" y="115.6" font-size="11" fill="#222" text-anchor="end" font-weight="normal">0</text>
<line x1="464.5" y1="141.6" x2="664.4" y2="141.6" stroke="#d9d9d9" stroke-width="1.1" />
<text x="452.5" y="145.6" font-size="11" fill="#222" text-anchor="end" font-weight="normal">-10</text>
<line x1="464.5" y1="171.6" x2="664.4" y2="171.6" stroke="#d9d9d9" stroke-width="1.1" />
<text x="452.5" y="175.6" font-size="11" fill="#222" text-anchor="end" font-weight="normal">-20</text>
<line x1="539.6" y1="117.3" x2="539.6" y2="128.6" stroke="#404040" stroke-width="1" />
<line x1="536.2" y1="117.3" x2="543.0" y2="117.3" stroke="#404040" stroke-width="1" />
<line x1="536.2" y1="128.6" x2="543.0" y2="128.6" stroke="#404040" stroke-width="1" />
<line x1="589.6" y1="121.4" x2="589.6" y2="144.3" stroke="#404040" stroke-width="1" />
<line x1="586.2" y1="121.4" x2="593.0" y2="121.4" stroke="#404040" stroke-width="1" />
<line x1="586.2" y1="144.3" x2="593.0" y2="144.3" stroke="#404040" stroke-width="1" />
<line x1="639.6" y1="134.8" x2="639.6" y2="162.3" stroke="#404040" stroke-width="1" />
<line x1="636.2" y1="134.8" x2="643.0" y2="134.8" stroke="#404040" stroke-width="1" />
<line x1="636.2" y1="162.3" x2="643.0" y2="162.3" stroke="#404040" stroke-width="1" />
<line x1="539.6" y1="80" x2="539.6" y2="93" stroke="#404040" stroke-width="1" />
<line x1="536.2" y1="80" x2="543.0" y2="80" stroke="#404040" stroke-width="1" />
<line x1="536.2" y1="93" x2="543.0" y2="93" stroke="#404040" stroke-width="1" />
<line x1="589.6" y1="73.4" x2="589.6" y2="96.6" stroke="#404040" stroke-width="1" />
<line x1="586.2" y1="73.4" x2="593.0" y2="73.4" stroke="#404040" stroke-width="1" />
<line x1="586.2" y1="96.6" x2="593.0" y2="96.6" stroke="#404040" stroke-width="1" />
<line x1="639.6" y1="66" x2="639.6" y2="90.4" stroke="#404040" stroke-width="1" />
<line x1="636.2" y1="66" x2="643.0" y2="66" stroke="#404040" stroke-width="1" />
<line x1="636.2" y1="90.4" x2="643.0" y2="90.4" stroke="#404040" stroke-width="1" />
<polyline points="489.60,111.60 539.60,122.90 589.60,132.60 639.60,148.30" fill="none" stroke="#ff0000" stroke-width="3.3" stroke-linejoin="round" stroke-linecap="round" />
<polyline points="489.60,111.60 539.60,86.40 589.60,85.00 639.60,78.00" fill="none" stroke="#0000ff" stroke-width="3.3" stroke-linejoin="round" stroke-linecap="round" />
<circle cx="489.6" cy="111.6" r="3.4" fill="#ff0000" stroke="#000" stroke-width="1.1"/>
<circle cx="539.6" cy="122.9" r="3.4" fill="#ff0000" stroke="#000" stroke-width="1.1"/>
<circle cx="589.6" cy="132.6" r="3.4" fill="#ff0000" stroke="#000" stroke-width="1.1"/>
<circle cx="639.6" cy="148.3" r="3.4" fill="#ff0000" stroke="#000" stroke-width="1.1"/>
<circle cx="489.6" cy="111.6" r="3.4" fill="#0000ff" stroke="#000" stroke-width="1.1"/>
<circle cx="539.6" cy="86.4" r="3.4" fill="#0000ff" stroke="#000" stroke-width="1.1"/>
<circle cx="589.6" cy="85" r="3.4" fill="#0000ff" stroke="#000" stroke-width="1.1"/>
<circle cx="639.6" cy="78" r="3.4" fill="#0000ff" stroke="#000" stroke-width="1.1"/>
<text x="522.2" y="72.1" font-size="10" fill="#2020ff" text-anchor="start" font-weight="normal" textLength="36.5" lengthAdjust="spacingAndGlyphs">p=0.004</text>
<text x="574.9" y="63.8" font-size="10" fill="#2020ff" text-anchor="start" font-weight="normal" textLength="31.0" lengthAdjust="spacingAndGlyphs">p=0.04</text>
<text x="624.9" y="54.6" font-size="10" fill="#2020ff" text-anchor="start" font-weight="normal" textLength="30.6" lengthAdjust="spacingAndGlyphs">p=0.02</text>
<text x="522.7" y="148.8" font-size="10" fill="#ff2020" text-anchor="start" font-weight="normal" textLength="31.1" lengthAdjust="spacingAndGlyphs">p=0.08</text>
<text x="624.5" y="179.9" font-size="10" fill="#ff2020" text-anchor="start" font-weight="normal" textLength="30.6" lengthAdjust="spacingAndGlyphs">p=0.03</text>
<text x="425.9" y="154.7" font-size="16" fill="#111" text-anchor="start" font-weight="normal" textLength="79.3" lengthAdjust="spacingAndGlyphs" transform="rotate(-90 425.9 154.7)">Δ E’ (mm/s)</text>
<line x1="467" y1="209.91999999999996" x2="670.6" y2="209.91999999999996" stroke="#d9d9d9" stroke-width="1.1" />
<text x="454.5" y="213.91999999999996" font-size="11" fill="#222" text-anchor="end" font-weight="normal">12</text>
<line x1="467" y1="228.78999999999996" x2="670.6" y2="228.78999999999996" stroke="#d9d9d9" stroke-width="1.1" />
<text x="454.5" y="232.78999999999996" font-size="11" fill="#222" text-anchor="end" font-weight="normal">9</text>
<line x1="467" y1="247.65999999999997" x2="670.6" y2="247.65999999999997" stroke="#d9d9d9" stroke-width="1.1" />
<text x="454.5" y="251.65999999999997" font-size="11" fill="#222" text-anchor="end" font-weight="normal">6</text>
<line x1="467" y1="266.53" x2="670.6" y2="266.53" stroke="#d9d9d9" stroke-width="1.1" />
<text x="454.5" y="270.53" font-size="11" fill="#222" text-anchor="end" font-weight="normal">3</text>
<line x1="467" y1="285.4" x2="670.6" y2="285.4" stroke="#d9d9d9" stroke-width="1.1" />
<text x="454.5" y="289.4" font-size="11" fill="#222" text-anchor="end" font-weight="normal">0</text>
<line x1="467" y1="304.27" x2="670.6" y2="304.27" stroke="#d9d9d9" stroke-width="1.1" />
<text x="454.5" y="308.27" font-size="11" fill="#222" text-anchor="end" font-weight="normal">-3</text>
<line x1="467" y1="323.14" x2="670.6" y2="323.14" stroke="#d9d9d9" stroke-width="1.1" />
<text x="454.5" y="327.14" font-size="11" fill="#222" text-anchor="end" font-weight="normal">-6</text>
<line x1="543.3" y1="265.6" x2="543.3" y2="273.6" stroke="#404040" stroke-width="1" />
<line x1="539.9" y1="265.6" x2="546.6999999999999" y2="265.6" stroke="#404040" stroke-width="1" />
<line x1="539.9" y1="273.6" x2="546.6999999999999" y2="273.6" stroke="#404040" stroke-width="1" />
<line x1="645.9" y1="216.6" x2="645.9" y2="257.4" stroke="#404040" stroke-width="1" />
<line x1="642.5" y1="216.6" x2="649.3" y2="216.6" stroke="#404040" stroke-width="1" />
<line x1="642.5" y1="257.4" x2="649.3" y2="257.4" stroke="#404040" stroke-width="1" />
<line x1="543.3" y1="293.4" x2="543.3" y2="313.4" stroke="#404040" stroke-width="1" />
<line x1="539.9" y1="293.4" x2="546.6999999999999" y2="293.4" stroke="#404040" stroke-width="1" />
<line x1="539.9" y1="313.4" x2="546.6999999999999" y2="313.4" stroke="#404040" stroke-width="1" />
<line x1="594.6" y1="295.4" x2="594.6" y2="317.4" stroke="#404040" stroke-width="1" />
<line x1="591.2" y1="295.4" x2="598.0" y2="295.4" stroke="#404040" stroke-width="1" />
<line x1="591.2" y1="317.4" x2="598.0" y2="317.4" stroke="#404040" stroke-width="1" />
<line x1="645.9" y1="294" x2="645.9" y2="315.4" stroke="#404040" stroke-width="1" />
<line x1="642.5" y1="294" x2="649.3" y2="294" stroke="#404040" stroke-width="1" />
<line x1="642.5" y1="315.4" x2="649.3" y2="315.4" stroke="#404040" stroke-width="1" />
<polyline points="492.00,285.40 543.30,269.00 594.60,272.00 645.90,237.00" fill="none" stroke="#ff0000" stroke-width="3.3" stroke-linejoin="round" stroke-linecap="round" />
<polyline points="492.00,285.40 543.30,303.00 594.60,306.00 645.90,304.60" fill="none" stroke="#0000ff" stroke-width="3.3" stroke-linejoin="round" stroke-linecap="round" />
<circle cx="492" cy="285.4" r="3.4" fill="#ff0000" stroke="#000" stroke-width="1.1"/>
<circle cx="543.3" cy="269" r="3.4" fill="#ff0000" stroke="#000" stroke-width="1.1"/>
<circle cx="594.6" cy="272" r="3.4" fill="#ff0000" stroke="#000" stroke-width="1.1"/>
<circle cx="645.9" cy="237" r="3.4" fill="#ff0000" stroke="#000" stroke-width="1.1"/>
<circle cx="492" cy="285.4" r="3.4" fill="#0000ff" stroke="#000" stroke-width="1.1"/>
<circle cx="543.3" cy="303" r="3.4" fill="#0000ff" stroke="#000" stroke-width="1.1"/>
<circle cx="594.6" cy="306" r="3.4" fill="#0000ff" stroke="#000" stroke-width="1.1"/>
<circle cx="645.9" cy="304.6" r="3.4" fill="#0000ff" stroke="#000" stroke-width="1.1"/>
<text x="523.3" y="250.7" font-size="10" fill="#ff2020" text-anchor="start" font-weight="normal" textLength="37.0" lengthAdjust="spacingAndGlyphs">p=0.006</text>
<text x="581.8" y="250.7" font-size="10" fill="#ff2020" text-anchor="start" font-weight="normal" textLength="30.6" lengthAdjust="spacingAndGlyphs">p=0.01</text>
<text x="627.1" y="204.9" font-size="10" fill="#ff2020" text-anchor="start" font-weight="normal" textLength="31.3" lengthAdjust="spacingAndGlyphs">p=0.05</text>
<text x="576.8" y="337.2" font-size="10" fill="#2020ff" text-anchor="start" font-weight="normal" textLength="31.1" lengthAdjust="spacingAndGlyphs">p=0.08</text>
<text x="426.3" y="286.9" font-size="16.5" fill="#111" text-anchor="start" font-weight="normal" textLength="45.7" lengthAdjust="spacingAndGlyphs" transform="rotate(-90 426.3 286.9)">Δ E/E’</text>
<line x1="488" y1="352.6" x2="517.6" y2="352.6" stroke="#ff0000" stroke-width="3.3" />
<circle cx="503" cy="352.6" r="3.4" fill="#ff0000" stroke="#000" stroke-width="1.1"/>
<text x="520.8" y="357.4" font-size="13.6" fill="#111" text-anchor="start" font-weight="normal" textLength="22.4" lengthAdjust="spacingAndGlyphs">PBS</text>
<line x1="555.6" y1="352.6" x2="585" y2="352.6" stroke="#0000ff" stroke-width="3.3" />
<circle cx="570.4" cy="352.6" r="3.4" fill="#0000ff" stroke="#000" stroke-width="1.1"/>
<text x="587.7" y="357.4" font-size="13.6" fill="#111" text-anchor="start" font-weight="normal" textLength="46.7" lengthAdjust="spacingAndGlyphs">CDC-EV</text>
<rect x="14" y="401" width="28.4" height="27.4" fill="#000" />
<text x="28.2" y="419.02" font-size="12" fill="#fff" text-anchor="middle" font-weight="normal">C</text>
<text x="129.8" y="430.7" font-size="14.8" fill="#111" text-anchor="start" font-weight="normal" textLength="24.5" lengthAdjust="spacingAndGlyphs">PBS</text>
<text x="356.7" y="434.8" font-size="15.2" fill="#111" text-anchor="start" font-weight="normal" textLength="51" lengthAdjust="spacingAndGlyphs">CDC-EV</text>
<line x1="48.04599999999999" y1="442.5" x2="48.04599999999999" y2="635" stroke="#6cf0fc" stroke-width="1.1" stroke-dasharray="2.2 2.657" stroke-dashoffset="3.597"/>
<line x1="56.50299999999999" y1="442.5" x2="56.50299999999999" y2="635" stroke="#6cf0fc" stroke-width="1.1" stroke-dasharray="2.2 2.657" stroke-dashoffset="3.597"/>
<line x1="64.96" y1="442.5" x2="64.96" y2="635" stroke="#6cf0fc" stroke-width="1.1" stroke-dasharray="2.2 2.657" stroke-dashoffset="3.597"/>
<line x1="73.417" y1="442.5" x2="73.417" y2="635" stroke="#6cf0fc" stroke-width="1.1" stroke-dasharray="2.2 2.657" stroke-dashoffset="3.597"/>
<line x1="81.874" y1="442.5" x2="81.874" y2="635" stroke="#6cf0fc" stroke-width="1.1" stroke-dasharray="2.2 2.657" stroke-dashoffset="3.597"/>
<line x1="90.33099999999999" y1="442.5" x2="90.33099999999999" y2="635" stroke="#6cf0fc" stroke-width="1.1" stroke-dasharray="2.2 2.657" stroke-dashoffset="3.597"/>
<line x1="98.788" y1="442.5" x2="98.788" y2="635" stroke="#6cf0fc" stroke-width="1.1" stroke-dasharray="2.2 2.657" stroke-dashoffset="3.597"/>
<line x1="107.245" y1="442.5" x2="107.245" y2="635" stroke="#6cf0fc" stroke-width="1.1" stroke-dasharray="2.2 2.657" stroke-dashoffset="3.597"/>
<line x1="115.702" y1="442.5" x2="115.702" y2="635" stroke="#6cf0fc" stroke-width="1.1" stroke-dasharray="2.2 2.657" stroke-dashoffset="3.597"/>
<line x1="124.15899999999999" y1="442.5" x2="124.15899999999999" y2="635" stroke="#6cf0fc" stroke-width="1.1" stroke-dasharray="2.2 2.657" stroke-dashoffset="3.597"/>
<line x1="132.61599999999999" y1="442.5" x2="132.61599999999999" y2="635" stroke="#6cf0fc" stroke-width="1.1" stroke-dasharray="2.2 2.657" stroke-dashoffset="3.597"/>
<line x1="141.073" y1="442.5" x2="141.073" y2="635" stroke="#6cf0fc" stroke-width="1.1" stroke-dasharray="2.2 2.657" stroke-dashoffset="3.597"/>
<line x1="149.53" y1="442.5" x2="149.53" y2="635" stroke="#6cf0fc" stroke-width="1.1" stroke-dasharray="2.2 2.657" stroke-dashoffset="3.597"/>
<line x1="157.987" y1="442.5" x2="157.987" y2="635" stroke="#6cf0fc" stroke-width="1.1" stroke-dasharray="2.2 2.657" stroke-dashoffset="3.597"/>
<line x1="166.44400000000002" y1="442.5" x2="166.44400000000002" y2="635" stroke="#6cf0fc" stroke-width="1.1" stroke-dasharray="2.2 2.657" stroke-dashoffset="3.597"/>
<line x1="174.901" y1="442.5" x2="174.901" y2="635" stroke="#6cf0fc" stroke-width="1.1" stroke-dasharray="2.2 2.657" stroke-dashoffset="3.597"/>
<line x1="183.358" y1="442.5" x2="183.358" y2="635" stroke="#6cf0fc" stroke-width="1.1" stroke-dasharray="2.2 2.657" stroke-dashoffset="3.597"/>
<line x1="191.815" y1="442.5" x2="191.815" y2="635" stroke="#6cf0fc" stroke-width="1.1" stroke-dasharray="2.2 2.657" stroke-dashoffset="3.597"/>
<line x1="200.272" y1="442.5" x2="200.272" y2="635" stroke="#6cf0fc" stroke-width="1.1" stroke-dasharray="2.2 2.657" stroke-dashoffset="3.597"/>
<line x1="208.729" y1="442.5" x2="208.729" y2="635" stroke="#6cf0fc" stroke-width="1.1" stroke-dasharray="2.2 2.657" stroke-dashoffset="3.597"/>
<line x1="217.186" y1="442.5" x2="217.186" y2="635" stroke="#6cf0fc" stroke-width="1.1" stroke-dasharray="2.2 2.657" stroke-dashoffset="3.597"/>
<line x1="225.643" y1="442.5" x2="225.643" y2="635" stroke="#6cf0fc" stroke-width="1.1" stroke-dasharray="2.2 2.657" stroke-dashoffset="3.597"/>
<line x1="234.10000000000002" y1="442.5" x2="234.10000000000002" y2="635" stroke="#6cf0fc" stroke-width="1.1" stroke-dasharray="2.2 2.657" stroke-dashoffset="3.597"/>
<line x1="242.55700000000002" y1="442.5" x2="242.55700000000002" y2="635" stroke="#6cf0fc" stroke-width="1.1" stroke-dasharray="2.2 2.657" stroke-dashoffset="3.597"/>
<line x1="251.014" y1="442.5" x2="251.014" y2="635" stroke="#6cf0fc" stroke-width="1.1" stroke-dasharray="2.2 2.657" stroke-dashoffset="3.597"/>
<line x1="47.4" y1="634.2700000000001" x2="251.6" y2="634.2700000000001" stroke="#30ecfa" stroke-width="1.25" stroke-dasharray="2.7 1.529" stroke-dashoffset="0.704"/>
<line x1="47.4" y1="619.7" x2="251.6" y2="619.7" stroke="#30ecfa" stroke-width="1.25" stroke-dasharray="2.7 1.529" stroke-dashoffset="0.704"/>
<line x1="47.4" y1="605.1300000000001" x2="251.6" y2="605.1300000000001" stroke="#30ecfa" stroke-width="1.25" stroke-dasharray="2.7 1.529" stroke-dashoffset="0.704"/>
<line x1="47.4" y1="590.5600000000001" x2="251.6" y2="590.5600000000001" stroke="#30ecfa" stroke-width="1.25" stroke-dasharray="2.7 1.529" stroke-dashoffset="0.704"/>
<line x1="47.4" y1="575.9900000000001" x2="251.6" y2="575.9900000000001" stroke="#30ecfa" stroke-width="1.25" stroke-dasharray="2.7 1.529" stroke-dashoffset="0.704"/>
<line x1="47.4" y1="561.4200000000001" x2="251.6" y2="561.4200000000001" stroke="#30ecfa" stroke-width="1.25" stroke-dasharray="2.7 1.529" stroke-dashoffset="0.704"/>
<line x1="47.4" y1="546.8500000000001" x2="251.6" y2="546.8500000000001" stroke="#30ecfa" stroke-width="1.25" stroke-dasharray="2.7 1.529" stroke-dashoffset="0.704"/>
<line x1="47.4" y1="532.2800000000001" x2="251.6" y2="532.2800000000001" stroke="#30ecfa" stroke-width="1.25" stroke-dasharray="2.7 1.529" stroke-dashoffset="0.704"/>
<line x1="47.4" y1="517.71" x2="251.6" y2="517.71" stroke="#30ecfa" stroke-width="1.25" stroke-dasharray="2.7 1.529" stroke-dashoffset="0.704"/>
<line x1="47.4" y1="503.1400000000001" x2="251.6" y2="503.1400000000001" stroke="#30ecfa" stroke-width="1.25" stroke-dasharray="2.7 1.529" stroke-dashoffset="0.704"/>
<line x1="47.4" y1="488.5700000000001" x2="251.6" y2="488.5700000000001" stroke="#30ecfa" stroke-width="1.25" stroke-dasharray="2.7 1.529" stroke-dashoffset="0.704"/>
<line x1="47.4" y1="474.0000000000001" x2="251.6" y2="474.0000000000001" stroke="#30ecfa" stroke-width="1.25" stroke-dasharray="2.7 1.529" stroke-dashoffset="0.704"/>
<line x1="47.4" y1="459.43000000000006" x2="251.6" y2="459.43000000000006" stroke="#30ecfa" stroke-width="1.25" stroke-dasharray="2.7 1.529" stroke-dashoffset="0.704"/>
<line x1="47.4" y1="444.8600000000001" x2="251.6" y2="444.8600000000001" stroke="#30ecfa" stroke-width="1.25" stroke-dasharray="2.7 1.529" stroke-dashoffset="0.704"/>
<line x1="47.4" y1="442" x2="47.4" y2="635.5" stroke="#505050" stroke-width="1.2" />
<line x1="46.9" y1="635" x2="251.6" y2="635" stroke="#505050" stroke-width="1.2" />
<line x1="45.199999999999996" y1="634.2700000000001" x2="47.4" y2="634.2700000000001" stroke="#505050" stroke-width="1" />
<line x1="45.199999999999996" y1="619.7" x2="47.4" y2="619.7" stroke="#505050" stroke-width="1" />
<line x1="45.199999999999996" y1="605.13" x2="47.4" y2="605.13" stroke="#505050" stroke-width="1" />
<line x1="45.199999999999996" y1="590.5600000000001" x2="47.4" y2="590.5600000000001" stroke="#505050" stroke-width="1" />
<line x1="45.199999999999996" y1="575.99" x2="47.4" y2="575.99" stroke="#505050" stroke-width="1" />
<line x1="45.199999999999996" y1="561.4200000000001" x2="47.4" y2="561.4200000000001" stroke="#505050" stroke-width="1" />
<line x1="45.199999999999996" y1="546.85" x2="47.4" y2="546.85" stroke="#505050" stroke-width="1" />
<line x1="45.199999999999996" y1="532.2800000000001" x2="47.4" y2="532.2800000000001" stroke="#505050" stroke-width="1" />
<line x1="45.199999999999996" y1="517.71" x2="47.4" y2="517.71" stroke="#505050" stroke-width="1" />
<line x1="45.199999999999996" y1="503.14000000000004" x2="47.4" y2="503.14000000000004" stroke="#505050" stroke-width="1" />
<line x1="45.199999999999996" y1="488.57000000000005" x2="47.4" y2="488.57000000000005" stroke="#505050" stroke-width="1" />
<line x1="45.199999999999996" y1="474.0" x2="47.4" y2="474.0" stroke="#505050" stroke-width="1" />
<line x1="45.199999999999996" y1="459.43000000000006" x2="47.4" y2="459.43000000000006" stroke="#505050" stroke-width="1" />
<line x1="45.199999999999996" y1="444.86" x2="47.4" y2="444.86" stroke="#505050" stroke-width="1" />
<line x1="48.04599999999999" y1="635" x2="48.04599999999999" y2="636.8" stroke="#505050" stroke-width="1" />
<line x1="56.50299999999999" y1="635" x2="56.50299999999999" y2="636.8" stroke="#505050" stroke-width="1" />
<line x1="64.96" y1="635" x2="64.96" y2="636.8" stroke="#505050" stroke-width="1" />
<line x1="73.417" y1="635" x2="73.417" y2="636.8" stroke="#505050" stroke-width="1" />
<line x1="81.874" y1="635" x2="81.874" y2="636.8" stroke="#505050" stroke-width="1" />
<line x1="90.33099999999999" y1="635" x2="90.33099999999999" y2="636.8" stroke="#505050" stroke-width="1" />
<line x1="98.788" y1="635" x2="98.788" y2="636.8" stroke="#505050" stroke-width="1" />
<line x1="107.245" y1="635" x2="107.245" y2="636.8" stroke="#505050" stroke-width="1" />
<line x1="115.702" y1="635" x2="115.702" y2="636.8" stroke="#505050" stroke-width="1" />
<line x1="124.15899999999999" y1="635" x2="124.15899999999999" y2="636.8" stroke="#505050" stroke-width="1" />
<line x1="132.61599999999999" y1="635" x2="132.61599999999999" y2="636.8" stroke="#505050" stroke-width="1" />
<line x1="141.07299999999998" y1="635" x2="141.07299999999998" y2="636.8" stroke="#505050" stroke-width="1" />
<line x1="149.53" y1="635" x2="149.53" y2="636.8" stroke="#505050" stroke-width="1" />
<line x1="157.98700000000002" y1="635" x2="157.98700000000002" y2="636.8" stroke="#505050" stroke-width="1" />
<line x1="166.44400000000002" y1="635" x2="166.44400000000002" y2="636.8" stroke="#505050" stroke-width="1" />
<line x1="174.901" y1="635" x2="174.901" y2="636.8" stroke="#505050" stroke-width="1" />
<line x1="183.358" y1="635" x2="183.358" y2="636.8" stroke="#505050" stroke-width="1" />
<line x1="191.815" y1="635" x2="191.815" y2="636.8" stroke="#505050" stroke-width="1" />
<line x1="200.272" y1="635" x2="200.272" y2="636.8" stroke="#505050" stroke-width="1" />
<line x1="208.72899999999998" y1="635" x2="208.72899999999998" y2="636.8" stroke="#505050" stroke-width="1" />
<line x1="217.18599999999998" y1="635" x2="217.18599999999998" y2="636.8" stroke="#505050" stroke-width="1" />
<line x1="225.64300000000003" y1="635" x2="225.64300000000003" y2="636.8" stroke="#505050" stroke-width="1" />
<line x1="234.10000000000002" y1="635" x2="234.10000000000002" y2="636.8" stroke="#505050" stroke-width="1" />
<line x1="242.55700000000002" y1="635" x2="242.55700000000002" y2="636.8" stroke="#505050" stroke-width="1" />
<line x1="251.014" y1="635" x2="251.014" y2="636.8" stroke="#505050" stroke-width="1" />
<text x="41.3" y="476.8" font-size="7.8" fill="#2c2c3a" text-anchor="end" font-weight="normal">100</text>
<text x="41.3" y="549.65" font-size="7.8" fill="#2c2c3a" text-anchor="end" font-weight="normal">50</text>
<text x="41.3" y="622.5" font-size="7.8" fill="#2c2c3a" text-anchor="end" font-weight="normal">0</text>
<text x="64.96" y="649" font-size="7.6" fill="#2c2c3a" text-anchor="middle" font-weight="normal">15</text>
<text x="107.245" y="649" font-size="7.6" fill="#2c2c3a" text-anchor="middle" font-weight="normal">20</text>
<text x="149.53" y="649" font-size="7.6" fill="#2c2c3a" text-anchor="middle" font-weight="normal">25</text>
<text x="191.815" y="649" font-size="7.6" fill="#2c2c3a" text-anchor="middle" font-weight="normal">30</text>
<text x="234.10000000000002" y="649" font-size="7.6" fill="#2c2c3a" text-anchor="middle" font-weight="normal">35</text>
<text x="120.8" y="678.7" font-size="8" fill="#2c2c3a" text-anchor="start" font-weight="normal" textLength="55" lengthAdjust="spacingAndGlyphs">LV Volume (mS)</text>
<text x="11.6" y="563.2" font-size="8.4" fill="#2c2c3a" text-anchor="start" font-weight="normal" textLength="74" lengthAdjust="spacingAndGlyphs" transform="rotate(-90 11.6 563.2)">LV Pressure (mmHg)</text>
<rect x="50.5" y="445.6" width="77" height="66.6" fill="#ffffff" />
<line x1="65.5" y1="448.6" x2="65.5" y2="505" stroke="#b8f4f8" stroke-width="0.5" />
<line x1="68.45" y1="448.6" x2="68.45" y2="505" stroke="#b8f4f8" stroke-width="0.5" />
<line x1="71.4" y1="448.6" x2="71.4" y2="505" stroke="#b8f4f8" stroke-width="0.5" />
<line x1="74.35" y1="448.6" x2="74.35" y2="505" stroke="#b8f4f8" stroke-width="0.5" />
<line x1="77.3" y1="448.6" x2="77.3" y2="505" stroke="#b8f4f8" stroke-width="0.5" />
<line x1="80.25" y1="448.6" x2="80.25" y2="505" stroke="#b8f4f8" stroke-width="0.5" />
<line x1="83.2" y1="448.6" x2="83.2" y2="505" stroke="#b8f4f8" stroke-width="0.5" />
<line x1="86.15" y1="448.6" x2="86.15" y2="505" stroke="#b8f4f8" stroke-width="0.5" />
<line x1="89.1" y1="448.6" x2="89.1" y2="505" stroke="#b8f4f8" stroke-width="0.5" />
<line x1="92.05" y1="448.6" x2="92.05" y2="505" stroke="#b8f4f8" stroke-width="0.5" />
<line x1="95.0" y1="448.6" x2="95.0" y2="505" stroke="#b8f4f8" stroke-width="0.5" />
<line x1="97.95" y1="448.6" x2="97.95" y2="505" stroke="#b8f4f8" stroke-width="0.5" />
<line x1="100.9" y1="448.6" x2="100.9" y2="505" stroke="#b8f4f8" stroke-width="0.5" />
<line x1="103.85" y1="448.6" x2="103.85" y2="505" stroke="#b8f4f8" stroke-width="0.5" />
<line x1="106.80000000000001" y1="448.6" x2="106.80000000000001" y2="505" stroke="#b8f4f8" stroke-width="0.5" />
<line x1="109.75" y1="448.6" x2="109.75" y2="505" stroke="#b8f4f8" stroke-width="0.5" />
<line x1="112.7" y1="448.6" x2="112.7" y2="505" stroke="#b8f4f8" stroke-width="0.5" />
<line x1="115.65" y1="448.6" x2="115.65" y2="505" stroke="#b8f4f8" stroke-width="0.5" />
<line x1="118.6" y1="448.6" x2="118.6" y2="505" stroke="#b8f4f8" stroke-width="0.5" />
<line x1="121.55000000000001" y1="448.6" x2="121.55000000000001" y2="505" stroke="#b8f4f8" stroke-width="0.5" />
<line x1="124.5" y1="448.6" x2="124.5" y2="505" stroke="#b8f4f8" stroke-width="0.5" />
<line x1="65.5" y1="505.0" x2="126.5" y2="505.0" stroke="#b8f4f8" stroke-width="0.5" />
<line x1="65.5" y1="502.05" x2="126.5" y2="502.05" stroke="#b8f4f8" stroke-width="0.5" />
<line x1="65.5" y1="499.1" x2="126.5" y2="499.1" stroke="#b8f4f8" stroke-width="0.5" />
<line x1="65.5" y1="496.15" x2="126.5" y2="496.15" stroke="#b8f4f8" stroke-width="0.5" />
<line x1="65.5" y1="493.2" x2="126.5" y2="493.2" stroke="#b8f4f8" stroke-width="0.5" />
<line x1="65.5" y1="490.25" x2="126.5" y2="490.25" stroke="#b8f4f8" stroke-width="0.5" />
<line x1="65.5" y1="487.3" x2="126.5" y2="487.3" stroke="#b8f4f8" stroke-width="0.5" />
<line x1="65.5" y1="484.35" x2="126.5" y2="484.35" stroke="#b8f4f8" stroke-width="0.5" />
<line x1="65.5" y1="481.4" x2="126.5" y2="481.4" stroke="#b8f4f8" stroke-width="0.5" />
<line x1="65.5" y1="478.45" x2="126.5" y2="478.45" stroke="#b8f4f8" stroke-width="0.5" />
<line x1="65.5" y1="475.5" x2="126.5" y2="475.5" stroke="#b8f4f8" stroke-width="0.5" />
<line x1="65.5" y1="472.55" x2="126.5" y2="472.55" stroke="#b8f4f8" stroke-width="0.5" />
<line x1="65.5" y1="469.6" x2="126.5" y2="469.6" stroke="#b8f4f8" stroke-width="0.5" />
<line x1="65.5" y1="466.65" x2="126.5" y2="466.65" stroke="#b8f4f8" stroke-width="0.5" />
<line x1="65.5" y1="463.7" x2="126.5" y2="463.7" stroke="#b8f4f8" stroke-width="0.5" />
<line x1="65.5" y1="460.75" x2="126.5" y2="460.75" stroke="#b8f4f8" stroke-width="0.5" />
<line x1="65.5" y1="457.8" x2="126.5" y2="457.8" stroke="#b8f4f8" stroke-width="0.5" />
<line x1="65.5" y1="454.85" x2="126.5" y2="454.85" stroke="#b8f4f8" stroke-width="0.5" />
<line x1="65.5" y1="451.9" x2="126.5" y2="451.9" stroke="#b8f4f8" stroke-width="0.5" />
<line x1="65.5" y1="448.95" x2="126.5" y2="448.95" stroke="#b8f4f8" stroke-width="0.5" />
<line x1="65.2" y1="448.6" x2="65.2" y2="505.5" stroke="#888" stroke-width="0.6" />
<line x1="65.2" y1="505.5" x2="127" y2="505.5" stroke="#888" stroke-width="0.6" />
<line x1="65.2" y1="504" x2="116.7" y2="451" stroke="#e89090" stroke-width="0.5" />
<line x1="65.2" y1="504" x2="126.5" y2="489" stroke="#40a8c8" stroke-width="0.5" />
<text x="72" y="452.2" font-size="2.6" fill="#777" text-anchor="start" font-weight="normal" textLength="48" lengthAdjust="spacingAndGlyphs">ESPVR: Pes = 1.83 *Ves - 37.56 , r = 0.998</text>
<path d="M102.05714285714286,466.7857142857143 C105.05714285714286,465.2857142857143 112.2,465.7857142857143 114.7,467.7857142857143 Q116.2,469.2857142857143 116.2,471.7857142857143 L116.7,490.14285714285717 Q117.2,492.14285714285717 118.2,491.64285714285717 L105.05714285714286,492.64285714285717 Q102.85714285714286,492.64285714285717 102.55714285714286,489.14285714285717 Z" fill="none" stroke="#505050" stroke-width="0.4"/>
<path d="M103.41428571428571,465.07142857142856 C106.41428571428571,463.57142857142856 113.6,464.07142857142856 116.1,466.07142857142856 Q117.6,467.57142857142856 117.6,470.07142857142856 L118.1,489.7857142857143 Q118.6,491.7857142857143 119.6,491.2857142857143 L106.41428571428571,492.2857142857143 Q104.21428571428571,492.2857142857143 103.91428571428571,488.7857142857143 Z" fill="none" stroke="#505050" stroke-width="0.4"/>
<path d="M104.77142857142857,463.35714285714283 C107.77142857142857,461.85714285714283 115.0,462.35714285714283 117.5,464.35714285714283 Q119.0,465.85714285714283 119.0,468.35714285714283 L119.5,489.42857142857144 Q120.0,491.42857142857144 121.0,490.92857142857144 L107.77142857142857,491.92857142857144 Q105.57142857142857,491.92857142857144 105.27142857142857,488.42857142857144 Z" fill="none" stroke="#505050" stroke-width="0.4"/>
<path d="M106.12857142857143,461.64285714285717 C109.12857142857143,460.14285714285717 116.39999999999999,460.64285714285717 118.89999999999999,462.64285714285717 Q120.39999999999999,464.14285714285717 120.39999999999999,466.64285714285717 L120.89999999999999,489.07142857142856 Q121.39999999999999,491.07142857142856 122.39999999999999,490.57142857142856 L109.12857142857143,491.57142857142856 Q106.92857142857143,491.57142857142856 106.62857142857143,488.07142857142856 Z" fill="none" stroke="#505050" stroke-width="0.4"/>
<path d="M107.4857142857143,459.92857142857144 C110.4857142857143,458.42857142857144 117.8,458.92857142857144 120.3,460.92857142857144 Q121.8,462.42857142857144 121.8,464.92857142857144 L122.3,488.7142857142857 Q122.8,490.7142857142857 123.8,490.2142857142857 L110.4857142857143,491.2142857142857 Q108.28571428571429,491.2142857142857 107.9857142857143,487.7142857142857 Z" fill="none" stroke="#505050" stroke-width="0.4"/>
<path d="M108.84285714285714,458.2142857142857 C111.84285714285714,456.7142857142857 119.2,457.2142857142857 121.7,459.2142857142857 Q123.2,460.7142857142857 123.2,463.2142857142857 L123.7,488.35714285714283 Q124.2,490.35714285714283 125.2,489.85714285714283 L111.84285714285714,490.85714285714283 Q109.64285714285714,490.85714285714283 109.34285714285714,487.35714285714283 Z" fill="none" stroke="#505050" stroke-width="0.4"/>
<path d="M110.2,456.5 C113.2,455.0 120.6,455.5 123.1,457.5 Q124.6,459.0 124.6,461.5 L125.1,488.0 Q125.6,490.0 126.6,489.5 L113.2,490.5 Q111.0,490.5 110.7,487.0 Z" fill="none" stroke="#505050" stroke-width="0.4"/>
<path d="M100.7,468.5 C103.7,467.0 110.8,467.5 113.3,469.5 Q114.8,471.0 114.8,473.5 L115.3,490.5 Q115.8,492.5 116.8,492.0 L103.7,493.0 Q101.5,493.0 101.2,489.5 Z" fill="none" stroke="#3048c8" stroke-width="0.7"/>
<path d="M100.5,468.5 L103,465 L106,461 L110,457.5 L114,456" stroke="#e03030" stroke-width="0.9" fill="none"/>
<rect x="53.2" y="498.8" width="3.2" height="2.6" fill="#8898b0" />
<rect x="53.2" y="501.6" width="3.2" height="2.4" fill="#c8d0dc" />
<rect x="52.3" y="513.8" width="5.2" height="3.5" fill="#a8b4c8" />
<rect x="65.4" y="513.8" width="6.6" height="3.5" fill="#c0c8d8" />
<text x="88.4" y="517.2" font-size="2.8" fill="#888" text-anchor="start" font-weight="normal" textLength="15.8" lengthAdjust="spacingAndGlyphs">LV Volume (mS)</text>
<text x="74" y="509" font-size="2.4" fill="#888" text-anchor="middle" font-weight="normal">20</text>
<text x="93.6" y="509" font-size="2.4" fill="#888" text-anchor="middle" font-weight="normal">30</text>
<text x="113.4" y="509" font-size="2.4" fill="#888" text-anchor="middle" font-weight="normal">40</text>
<rect x="123.9" y="513.8" width="2.8" height="3.5" fill="#b8c0d0" />
<text x="58" y="480" font-size="2.6" fill="#777" text-anchor="start" font-weight="normal" textLength="20" lengthAdjust="spacingAndGlyphs" transform="rotate(-90 58 480)">LV Pressure (mmHg)</text>
<svg x="47.4" y="440" width="205" height="196" overflow="hidden"><g transform="translate(-47.4,-440)">
<line x1="47.4" y1="606.5" x2="199.5" y2="441.5" stroke="#e07878" stroke-width="0.9" />
<line x1="113" y1="635" x2="251.6" y2="603" stroke="#2c98b8" stroke-width="0.9" />
<path d="M190.1,458.0 C190.2,453.9 190.0,456.8 193.0,456.5 C196.0,456.2 196.1,456.2 200.0,457.0 C203.9,457.8 202.1,456.9 206.0,459.0 C209.9,461.1 208.5,460.6 213.0,464.0 C217.5,467.4 216.5,466.9 221.0,470.5 C225.5,474.1 224.8,472.6 228.0,476.0 C231.2,479.4 230.0,477.2 231.5,482.0 C233.0,486.8 231.7,459.6 233.0,492.0 C234.3,524.4 234.5,557.0 236.0,590.0 C237.5,623.0 236.7,598.2 238.0,602.0 C239.3,605.8 241.7,600.1 240.5,602.5 C239.3,604.9 239.6,607.1 234.0,610.0 C228.4,612.9 229.2,611.0 222.0,612.3 C214.8,613.6 217.2,613.1 210.0,614.3 C202.8,615.5 203.1,616.1 198.0,616.2 C192.9,616.3 195.2,617.7 193.0,614.7 C190.8,611.7 192.1,625.8 190.5,606.2 C188.9,586.5 187.2,589.9 187.8,549.1 C188.4,508.2 191.9,497.3 192.6,470.0 C193.3,442.7 190.0,462.1 190.1,458.0 Z" fill="none" stroke="#111" stroke-width="0.75"/>
<path d="M184.2,459.5 C185.3,455.5 186.2,458.5 190.2,458.3 C194.2,458.2 193.4,458.2 197.7,459.0 C202.0,459.7 200.1,458.9 204.5,460.9 C208.9,462.8 207.5,462.3 212.3,465.5 C217.0,468.7 215.9,468.1 220.4,471.5 C225.0,474.8 224.2,473.3 227.3,476.6 C230.5,479.9 229.3,477.7 230.8,482.6 C232.3,487.4 231.0,460.5 232.3,492.7 C233.5,525.0 233.6,557.1 235.1,590.0 C236.6,622.9 235.8,598.4 237.2,602.4 C238.6,606.3 240.7,601.0 239.8,603.3 C238.9,605.5 239.3,607.3 234.0,610.0 C228.7,612.7 229.2,611.0 222.0,612.3 C214.8,613.6 217.9,613.1 210.0,614.3 C202.1,615.5 201.3,616.2 195.5,616.3 C189.7,616.5 192.8,617.8 190.5,614.8 C188.2,611.8 189.7,625.8 188.0,606.3 C186.3,586.9 185.4,590.4 185.0,549.9 C184.6,509.5 186.9,498.6 186.7,471.5 C186.5,444.4 183.1,463.5 184.2,459.5 Z" fill="none" stroke="#111" stroke-width="0.75"/>
<path d="M181.9,460.4 C183.1,456.5 184.2,459.5 188.5,459.4 C192.8,459.3 191.7,459.4 196.3,460.1 C200.8,460.9 199.0,460.1 203.6,462.0 C208.3,463.9 206.9,463.4 211.8,466.4 C216.8,469.4 215.6,468.9 220.1,472.1 C224.7,475.2 223.9,473.7 227.0,477.0 C230.0,480.2 228.9,478.0 230.4,482.9 C231.8,487.8 230.5,461.1 231.8,493.2 C233.1,525.3 233.1,557.2 234.6,590.0 C236.0,622.8 235.2,598.5 236.7,602.6 C238.1,606.7 240.2,601.5 239.4,603.7 C238.6,605.9 239.2,607.4 234.0,610.0 C228.8,612.6 229.2,611.0 222.0,612.3 C214.8,613.6 217.8,613.1 210.0,614.3 C202.2,615.5 201.4,615.5 196.0,616.2 C190.6,616.9 194.7,616.9 192.0,616.6 C189.3,616.2 189.2,618.1 187.0,615.1 C184.8,612.1 186.1,626.0 184.5,606.6 C182.9,587.2 181.6,590.7 181.6,550.5 C181.6,510.2 184.3,499.4 184.4,472.4 C184.5,445.4 180.7,464.3 181.9,460.4 Z" fill="none" stroke="#111" stroke-width="0.75"/>
<path d="M176.6,464.2 C177.3,460.5 177.3,463.7 181.4,464.0 C185.6,464.3 184.9,464.3 190.4,465.1 C195.9,465.9 194.0,465.2 199.8,466.7 C205.7,468.2 204.3,467.8 209.9,470.2 C215.6,472.5 214.1,472.0 218.7,474.5 C223.3,477.0 222.3,475.6 225.3,478.5 C228.3,481.4 227.2,479.3 228.6,484.3 C230.0,489.3 228.8,463.4 229.9,495.1 C231.0,526.8 231.0,557.5 232.3,590.0 C233.7,622.5 233.0,598.9 234.5,603.5 C236.1,608.2 241.4,603.0 237.6,605.6 C233.9,608.2 230.3,609.7 222.0,612.3 C213.7,614.9 217.8,613.1 210.0,614.3 C202.2,615.5 203.2,615.4 196.0,616.2 C188.8,617.0 190.5,617.2 186.0,617.0 C181.5,616.8 183.2,618.5 181.0,615.5 C178.8,612.5 180.1,625.9 178.5,607.0 C176.9,588.1 175.5,591.8 175.7,552.6 C175.8,513.4 178.8,502.7 179.1,476.2 C179.4,449.7 175.9,467.9 176.6,464.2 Z" fill="none" stroke="#111" stroke-width="0.75"/>
<path d="M174.0,465.7 C174.6,462.1 174.4,465.4 178.7,465.8 C182.9,466.2 182.1,466.2 188.0,467.0 C194.0,467.9 192.0,467.2 198.3,468.6 C204.7,469.9 203.2,469.6 209.2,471.7 C215.1,473.7 213.5,473.3 218.1,475.5 C222.8,477.8 221.7,476.3 224.7,479.1 C227.6,481.9 226.6,479.9 227.9,484.9 C229.3,489.9 228.1,464.3 229.2,495.8 C230.2,527.4 230.1,557.6 231.5,590.0 C232.8,622.4 232.1,599.0 233.7,603.9 C235.3,608.8 240.4,603.9 236.9,606.4 C233.4,608.9 230.1,609.9 222.0,612.3 C213.9,614.7 217.8,613.1 210.0,614.3 C202.2,615.5 205.0,615.4 196.0,616.2 C187.0,617.0 186.3,617.2 180.0,617.0 C173.7,616.8 177.2,618.5 175.0,615.5 C172.8,612.5 174.0,625.6 172.5,607.0 C171.0,588.4 168.8,592.1 170.0,553.4 C171.2,514.6 175.3,504.0 176.5,477.7 C177.7,451.4 173.4,469.3 174.0,465.7 Z" fill="none" stroke="#111" stroke-width="0.75"/>
<path d="M159.7,474.1 C159.9,471.1 158.4,474.8 163.0,476.0 C167.6,477.2 166.9,477.1 175.0,478.0 C183.1,478.9 181.0,478.4 190.0,479.0 C199.0,479.6 197.5,479.4 205.0,480.0 C212.5,480.6 210.2,480.2 215.0,481.0 C219.8,481.8 218.3,480.4 221.0,482.5 C223.7,484.6 222.8,482.8 224.0,488.0 C225.2,493.2 224.2,469.4 225.0,500.0 C225.8,530.6 225.3,558.2 226.5,590.0 C227.7,621.8 227.1,599.8 229.0,606.0 C230.9,612.2 235.1,608.7 233.0,610.6 C230.9,612.5 228.9,611.2 222.0,612.3 C215.1,613.4 217.8,613.1 210.0,614.3 C202.2,615.5 205.0,615.3 196.0,616.2 C187.0,617.1 187.2,617.0 180.0,617.2 C172.8,617.4 175.9,617.5 172.0,617.0 C168.1,616.5 169.2,618.5 167.0,615.5 C164.8,612.5 166.2,624.4 164.5,607.0 C162.8,589.6 162.1,593.8 161.4,557.5 C160.7,521.3 162.7,511.1 162.2,486.1 C161.7,461.1 159.5,477.1 159.7,474.1 Z" fill="none" stroke="#111" stroke-width="0.75"/>
<path d="M153.1,483.2 C153.7,479.9 152.8,483.5 157.7,484.2 C162.6,485.0 161.5,485.0 169.5,485.6 C177.5,486.2 175.5,485.7 184.5,486.1 C193.5,486.6 192.1,486.5 199.5,487.1 C206.9,487.8 204.6,487.4 209.3,488.3 C213.9,489.1 212.5,487.7 215.0,490.1 C217.5,492.4 216.6,489.2 217.6,496.1 C218.7,503.1 217.9,484.4 218.5,513.2 C219.2,542.0 218.7,564.1 219.8,592.2 C220.9,620.3 220.2,601.2 222.1,606.9 C223.9,612.6 229.6,609.0 226.0,611.2 C222.3,613.5 219.0,612.8 210.0,614.3 C201.0,615.8 205.0,615.3 196.0,616.2 C187.0,617.1 188.1,617.0 180.0,617.2 C171.9,617.4 173.8,617.5 169.0,617.0 C164.2,616.5 166.2,618.5 164.0,615.5 C161.8,612.5 163.3,623.0 161.5,607.0 C159.7,591.0 159.8,595.6 158.0,562.1 C156.2,528.6 157.1,518.9 155.6,495.2 C154.1,471.5 152.5,486.5 153.1,483.2 Z" fill="none" stroke="#111" stroke-width="0.75"/>
<path d="M149.7,490.8 C150.0,487.3 148.8,490.8 153.3,491.1 C157.9,491.5 156.9,491.6 164.9,491.9 C172.9,492.2 170.9,491.8 179.9,492.1 C188.9,492.5 187.5,492.4 194.9,493.1 C202.3,493.8 200.0,493.3 204.5,494.3 C209.0,495.3 207.6,493.8 209.9,496.4 C212.2,499.0 211.3,494.6 212.3,502.9 C213.3,511.3 212.5,496.9 213.1,524.2 C213.7,551.5 213.2,569.0 214.2,594.0 C215.2,619.1 214.5,602.3 216.3,607.6 C218.1,612.9 222.0,609.8 220.1,611.8 C218.2,613.8 217.2,613.0 210.0,614.3 C202.8,615.6 205.0,615.3 196.0,616.2 C187.0,617.1 189.0,617.0 180.0,617.2 C171.0,617.4 171.7,617.5 166.0,617.0 C160.3,616.5 163.2,618.5 161.0,615.5 C158.8,612.5 160.3,621.9 158.5,607.0 C156.7,592.1 156.9,597.2 155.0,565.9 C153.1,534.6 153.8,525.3 152.2,502.8 C150.6,480.3 149.4,494.3 149.7,490.8 Z" fill="none" stroke="#111" stroke-width="0.75"/>
<path d="M147.8,495.2 C147.9,491.6 146.4,495.0 150.8,495.1 C155.1,495.2 154.3,495.4 162.3,495.6 C170.2,495.7 168.3,495.3 177.3,495.6 C186.3,495.9 184.9,495.9 192.3,496.6 C199.6,497.2 197.3,496.8 201.7,497.8 C206.2,498.9 204.7,497.4 207.0,500.1 C209.2,502.8 208.3,497.7 209.2,506.9 C210.1,516.0 209.4,504.1 210.0,530.6 C210.5,557.1 210.1,571.9 211.0,595.1 C211.8,618.3 211.2,602.9 212.9,608.0 C214.7,613.1 217.6,610.2 216.7,612.1 C215.8,614.0 216.2,613.1 210.0,614.3 C203.8,615.5 205.0,615.3 196.0,616.2 C187.0,617.1 189.6,617.0 180.0,617.2 C170.4,617.4 170.3,617.5 164.0,617.0 C157.7,616.5 161.2,618.5 159.0,615.5 C156.8,612.5 158.3,621.2 156.5,607.0 C154.7,592.8 154.8,598.0 153.0,568.1 C151.1,538.2 151.9,529.1 150.3,507.2 C148.7,485.3 147.7,498.8 147.8,495.2 Z" fill="none" stroke="#111" stroke-width="0.75"/>
<path d="M143.0,505.4 C142.8,501.5 140.9,504.7 144.9,504.4 C148.8,504.0 148.2,504.3 156.1,504.1 C164.0,503.8 162.1,503.4 171.1,503.6 C180.1,503.7 178.8,503.9 186.1,504.6 C193.4,505.3 191.1,504.7 195.3,505.9 C199.6,507.2 198.2,505.6 200.2,508.6 C202.2,511.6 201.3,504.9 202.1,516.0 C202.8,527.0 202.3,520.9 202.7,545.4 C203.1,569.8 202.7,578.5 203.4,597.6 C204.2,616.7 203.6,604.5 205.2,609.0 C206.8,613.6 211.6,610.6 208.8,612.8 C206.1,614.9 204.6,614.9 196.0,616.2 C187.4,617.5 190.2,617.0 180.0,617.2 C169.8,617.4 168.9,617.5 162.0,617.0 C155.1,616.5 159.2,618.5 157.0,615.5 C154.8,612.5 156.4,619.7 154.5,607.0 C152.6,594.3 153.4,600.1 150.7,573.2 C148.0,546.3 147.8,537.7 145.5,517.4 C143.2,497.1 143.2,509.3 143.0,505.4 Z" fill="none" stroke="#111" stroke-width="0.75"/>
<path d="M138.3,512.2 C138.3,508.1 136.8,511.2 140.9,510.5 C145.0,509.8 144.2,510.2 152.0,509.8 C159.8,509.3 158.0,508.9 167.0,508.9 C176.0,509.0 174.8,509.2 182.0,509.9 C189.2,510.6 187.0,510.1 191.1,511.4 C195.2,512.7 193.8,511.0 195.7,514.2 C197.6,517.5 196.7,509.8 197.3,522.1 C198.0,534.3 197.5,532.1 197.9,555.2 C198.2,578.4 197.8,582.9 198.4,599.2 C199.1,615.5 198.5,605.5 200.0,609.7 C201.5,613.9 204.8,611.3 203.6,613.3 C202.3,615.2 203.1,615.0 196.0,616.2 C188.9,617.4 191.1,617.0 180.0,617.2 C168.9,617.4 166.8,617.5 159.0,617.0 C151.2,616.5 156.2,618.5 154.0,615.5 C151.8,612.5 153.4,618.7 151.5,607.0 C149.6,595.3 150.7,601.4 147.5,576.6 C144.3,551.8 143.6,543.5 140.8,524.2 C138.0,504.9 138.3,516.3 138.3,512.2 Z" fill="none" stroke="#111" stroke-width="0.75"/>
<path d="M136.8,515.5 C136.7,511.3 135.0,514.4 139.0,513.5 C143.0,512.6 142.2,513.1 150.0,512.5 C157.8,511.9 156.0,511.5 165.0,511.5 C174.0,511.5 172.8,511.8 180.0,512.5 C187.2,513.2 184.9,512.6 189.0,514.0 C193.1,515.4 191.7,513.7 193.5,517.0 C195.3,520.3 194.4,512.1 195.0,525.0 C195.6,537.9 195.2,537.5 195.5,560.0 C195.8,582.5 195.4,585.0 196.0,600.0 C196.6,615.0 196.0,606.0 197.5,610.0 C199.0,614.0 201.4,611.6 201.0,613.5 C200.6,615.4 202.3,615.1 196.0,616.2 C189.7,617.3 190.8,616.9 180.0,617.2 C169.2,617.5 167.2,617.3 160.0,617.3 C152.8,617.3 158.7,617.8 156.0,617.3 C153.3,616.8 153.2,618.8 151.0,615.8 C148.8,612.8 150.4,618.5 148.5,607.3 C146.6,596.1 147.4,602.3 144.7,578.4 C141.9,554.5 141.7,546.4 139.3,527.5 C136.9,508.6 136.9,519.7 136.8,515.5 Z" fill="none" stroke="#1010d0" stroke-width="1.7"/>
<path d="M135.20000000000002,513.9 L138.4,517.1 M135.20000000000002,517.1 L138.4,513.9" stroke="#ff2020" stroke-width="1.1"/>
<path d="M136.70000000000002,510.6 L139.9,513.8000000000001 M136.70000000000002,513.8000000000001 L139.9,510.6" stroke="#ff2020" stroke-width="1.1"/>
<path d="M141.4,503.79999999999995 L144.6,507.0 M141.4,507.0 L144.6,503.79999999999995" stroke="#ff2020" stroke-width="1.1"/>
<path d="M146.20000000000002,493.59999999999997 L149.4,496.8 M146.20000000000002,496.8 L149.4,493.59999999999997" stroke="#ff2020" stroke-width="1.1"/>
<path d="M148.1,489.2 L151.29999999999998,492.40000000000003 M148.1,492.40000000000003 L151.29999999999998,489.2" stroke="#ff2020" stroke-width="1.1"/>
<path d="M151.5,481.59999999999997 L154.7,484.8 M151.5,484.8 L154.7,481.59999999999997" stroke="#ff2020" stroke-width="1.1"/>
<path d="M158.1,472.5 L161.29999999999998,475.70000000000005 M158.1,475.70000000000005 L161.29999999999998,472.5" stroke="#ff2020" stroke-width="1.1"/>
<path d="M172.4,464.09999999999997 L175.6,467.3 M172.4,467.3 L175.6,464.09999999999997" stroke="#ff2020" stroke-width="1.1"/>
<path d="M175.0,462.59999999999997 L178.2,465.8 M175.0,465.8 L178.2,462.59999999999997" stroke="#ff2020" stroke-width="1.1"/>
<path d="M180.3,458.79999999999995 L183.5,462.0 M180.3,462.0 L183.5,458.79999999999995" stroke="#ff2020" stroke-width="1.1"/>
<path d="M182.6,457.9 L185.79999999999998,461.1 M182.6,461.1 L185.79999999999998,457.9" stroke="#ff2020" stroke-width="1.1"/>
<path d="M188.5,456.4 L191.7,459.6 M188.5,459.6 L191.7,456.4" stroke="#ff2020" stroke-width="1.1"/>
<path d="M199.5,612.0 L202.5,615.0 M199.5,615.0 L202.5,612.0" stroke="#30c8f0" stroke-width="1.3"/>
<path d="M218.5917874396135,610.269806763285 L221.5917874396135,613.269806763285 M218.5917874396135,613.269806763285 L221.5917874396135,610.269806763285" stroke="#30c8f0" stroke-width="1.3"/>
<path d="M235.41304347826087,604.8739130434783 L238.41304347826087,607.8739130434783 M235.41304347826087,607.8739130434783 L238.41304347826087,604.8739130434783" stroke="#30c8f0" stroke-width="1.3"/>
<path d="M237.88198757763976,602.2074534161491 L240.88198757763976,605.2074534161491 M237.88198757763976,605.2074534161491 L240.88198757763976,602.2074534161491" stroke="#30c8f0" stroke-width="1.3"/>
<path d="M239.0,601.0 L242.0,604.0 M239.0,604.0 L242.0,601.0" stroke="#30c8f0" stroke-width="1.3"/>
</g></svg>
<rect x="3.8" y="611" width="11.2" height="11.2" fill="#fff" stroke="#3e6d96" stroke-width="0.9" rx="0.8"/>
<rect x="3.8" y="622.4" width="11.2" height="11.4" fill="#fff" stroke="#3e6d96" stroke-width="0.9" rx="0.8"/>
<line x1="6.5" y1="616.6" x2="12.3" y2="616.6" stroke="#111" stroke-width="1.3" />
<line x1="9.4" y1="613.7" x2="9.4" y2="619.5" stroke="#111" stroke-width="1.3" />
<line x1="6.5" y1="628.2" x2="12.3" y2="628.2" stroke="#111" stroke-width="1.3" />
<defs><linearGradient id="gb" x1="0" y1="0" x2="0" y2="1"><stop offset="0" stop-color="#f4f4f4"/><stop offset="1" stop-color="#d4d4d4"/></linearGradient><radialGradient id="gq" cx="0.4" cy="0.35" r="0.7"><stop offset="0" stop-color="#7aa0ff"/><stop offset="1" stop-color="#1a3cb0"/></radialGradient></defs>
<rect x="0.8" y="667.8" width="20.6" height="14.4" rx="2" fill="url(#gb)" stroke="#909090" stroke-width="0.8"/>
<circle cx="10.5" cy="674.9" r="4.6" fill="url(#gq)"/>
<text x="10.5" y="677.6" font-size="7" fill="#fff" text-anchor="middle" font-weight="bold">?</text>
<rect x="48.6" y="667.8" width="12" height="11.8" fill="#fff" stroke="#3e6d96" stroke-width="0.9" rx="0.8"/>
<rect x="60.6" y="667.8" width="12" height="11.8" fill="#fff" stroke="#3e6d96" stroke-width="0.9" rx="0.8"/>
<line x1="51.6" y1="673.6999999999999" x2="57.6" y2="673.6999999999999" stroke="#111" stroke-width="1.3" />
<line x1="63.6" y1="673.6999999999999" x2="69.6" y2="673.6999999999999" stroke="#111" stroke-width="1.3" />
<line x1="66.6" y1="670.6999999999999" x2="66.6" y2="676.6999999999999" stroke="#111" stroke-width="1.3" />
<rect x="238" y="668" width="11.6" height="11.4" fill="#fff" stroke="#3e6d96" stroke-width="0.9"/>
<path d="M240.8,672 L246.8,672 L243.8,675.6 Z" fill="#111"/>
<line x1="255.2" y1="440" x2="255.2" y2="684" stroke="#e8eef4" stroke-width="1" />
<line x1="228.5" y1="686.6" x2="490" y2="686.6" stroke="#d8e2ee" stroke-width="1" />
<line x1="285.124" y1="442.5" x2="285.124" y2="636.3" stroke="#6cf0fc" stroke-width="1.1" stroke-dasharray="2.2 2.923" stroke-dashoffset="3.917"/>
<line x1="294.1" y1="442.5" x2="294.1" y2="636.3" stroke="#6cf0fc" stroke-width="1.1" stroke-dasharray="2.2 2.923" stroke-dashoffset="3.917"/>
<line x1="303.076" y1="442.5" x2="303.076" y2="636.3" stroke="#6cf0fc" stroke-width="1.1" stroke-dasharray="2.2 2.923" stroke-dashoffset="3.917"/>
<line x1="312.052" y1="442.5" x2="312.052" y2="636.3" stroke="#6cf0fc" stroke-width="1.1" stroke-dasharray="2.2 2.923" stroke-dashoffset="3.917"/>
<line x1="321.028" y1="442.5" x2="321.028" y2="636.3" stroke="#6cf0fc" stroke-width="1.1" stroke-dasharray="2.2 2.923" stroke-dashoffset="3.917"/>
<line x1="330.004" y1="442.5" x2="330.004" y2="636.3" stroke="#6cf0fc" stroke-width="1.1" stroke-dasharray="2.2 2.923" stroke-dashoffset="3.917"/>
<line x1="338.98" y1="442.5" x2="338.98" y2="636.3" stroke="#6cf0fc" stroke-width="1.1" stroke-dasharray="2.2 2.923" stroke-dashoffset="3.917"/>
<line x1="347.956" y1="442.5" x2="347.956" y2="636.3" stroke="#6cf0fc" stroke-width="1.1" stroke-dasharray="2.2 2.923" stroke-dashoffset="3.917"/>
<line x1="356.932" y1="442.5" x2="356.932" y2="636.3" stroke="#6cf0fc" stroke-width="1.1" stroke-dasharray="2.2 2.923" stroke-dashoffset="3.917"/>
<line x1="365.908" y1="442.5" x2="365.908" y2="636.3" stroke="#6cf0fc" stroke-width="1.1" stroke-dasharray="2.2 2.923" stroke-dashoffset="3.917"/>
<line x1="374.884" y1="442.5" x2="374.884" y2="636.3" stroke="#6cf0fc" stroke-width="1.1" stroke-dasharray="2.2 2.923" stroke-dashoffset="3.917"/>
<line x1="383.86" y1="442.5" x2="383.86" y2="636.3" stroke="#6cf0fc" stroke-width="1.1" stroke-dasharray="2.2 2.923" stroke-dashoffset="3.917"/>
<line x1="392.836" y1="442.5" x2="392.836" y2="636.3" stroke="#6cf0fc" stroke-width="1.1" stroke-dasharray="2.2 2.923" stroke-dashoffset="3.917"/>
<line x1="401.812" y1="442.5" x2="401.812" y2="636.3" stroke="#6cf0fc" stroke-width="1.1" stroke-dasharray="2.2 2.923" stroke-dashoffset="3.917"/>
<line x1="410.788" y1="442.5" x2="410.788" y2="636.3" stroke="#6cf0fc" stroke-width="1.1" stroke-dasharray="2.2 2.923" stroke-dashoffset="3.917"/>
<line x1="419.764" y1="442.5" x2="419.764" y2="636.3" stroke="#6cf0fc" stroke-width="1.1" stroke-dasharray="2.2 2.923" stroke-dashoffset="3.917"/>
<line x1="428.74" y1="442.5" x2="428.74" y2="636.3" stroke="#6cf0fc" stroke-width="1.1" stroke-dasharray="2.2 2.923" stroke-dashoffset="3.917"/>
<line x1="437.716" y1="442.5" x2="437.716" y2="636.3" stroke="#6cf0fc" stroke-width="1.1" stroke-dasharray="2.2 2.923" stroke-dashoffset="3.917"/>
<line x1="446.692" y1="442.5" x2="446.692" y2="636.3" stroke="#6cf0fc" stroke-width="1.1" stroke-dasharray="2.2 2.923" stroke-dashoffset="3.917"/>
<line x1="455.668" y1="442.5" x2="455.668" y2="636.3" stroke="#6cf0fc" stroke-width="1.1" stroke-dasharray="2.2 2.923" stroke-dashoffset="3.917"/>
<line x1="464.644" y1="442.5" x2="464.644" y2="636.3" stroke="#6cf0fc" stroke-width="1.1" stroke-dasharray="2.2 2.923" stroke-dashoffset="3.917"/>
<line x1="473.62" y1="442.5" x2="473.62" y2="636.3" stroke="#6cf0fc" stroke-width="1.1" stroke-dasharray="2.2 2.923" stroke-dashoffset="3.917"/>
<line x1="276" y1="634.37" x2="482" y2="634.37" stroke="#30ecfa" stroke-width="1.25" stroke-dasharray="2.7 1.788" stroke-dashoffset="1.202"/>
<line x1="276" y1="619.0" x2="482" y2="619.0" stroke="#30ecfa" stroke-width="1.25" stroke-dasharray="2.7 1.788" stroke-dashoffset="1.202"/>
<line x1="276" y1="603.63" x2="482" y2="603.63" stroke="#30ecfa" stroke-width="1.25" stroke-dasharray="2.7 1.788" stroke-dashoffset="1.202"/>
<line x1="276" y1="588.26" x2="482" y2="588.26" stroke="#30ecfa" stroke-width="1.25" stroke-dasharray="2.7 1.788" stroke-dashoffset="1.202"/>
<line x1="276" y1="572.89" x2="482" y2="572.89" stroke="#30ecfa" stroke-width="1.25" stroke-dasharray="2.7 1.788" stroke-dashoffset="1.202"/>
<line x1="276" y1="557.52" x2="482" y2="557.52" stroke="#30ecfa" stroke-width="1.25" stroke-dasharray="2.7 1.788" stroke-dashoffset="1.202"/>
<line x1="276" y1="542.15" x2="482" y2="542.15" stroke="#30ecfa" stroke-width="1.25" stroke-dasharray="2.7 1.788" stroke-dashoffset="1.202"/>
<line x1="276" y1="526.78" x2="482" y2="526.78" stroke="#30ecfa" stroke-width="1.25" stroke-dasharray="2.7 1.788" stroke-dashoffset="1.202"/>
<line x1="276" y1="511.41" x2="482" y2="511.41" stroke="#30ecfa" stroke-width="1.25" stroke-dasharray="2.7 1.788" stroke-dashoffset="1.202"/>
<line x1="276" y1="496.04" x2="482" y2="496.04" stroke="#30ecfa" stroke-width="1.25" stroke-dasharray="2.7 1.788" stroke-dashoffset="1.202"/>
<line x1="276" y1="480.67" x2="482" y2="480.67" stroke="#30ecfa" stroke-width="1.25" stroke-dasharray="2.7 1.788" stroke-dashoffset="1.202"/>
<line x1="276" y1="465.3" x2="482" y2="465.3" stroke="#30ecfa" stroke-width="1.25" stroke-dasharray="2.7 1.788" stroke-dashoffset="1.202"/>
<line x1="276" y1="449.93" x2="482" y2="449.93" stroke="#30ecfa" stroke-width="1.25" stroke-dasharray="2.7 1.788" stroke-dashoffset="1.202"/>
<line x1="276" y1="441.7" x2="276" y2="636.8" stroke="#505050" stroke-width="1.2" />
<line x1="275.5" y1="636.3" x2="482" y2="636.3" stroke="#505050" stroke-width="1.2" />
<line x1="273.8" y1="634.37" x2="276" y2="634.37" stroke="#505050" stroke-width="1" />
<line x1="273.8" y1="619.0" x2="276" y2="619.0" stroke="#505050" stroke-width="1" />
<line x1="273.8" y1="603.63" x2="276" y2="603.63" stroke="#505050" stroke-width="1" />
<line x1="273.8" y1="588.26" x2="276" y2="588.26" stroke="#505050" stroke-width="1" />
<line x1="273.8" y1="572.89" x2="276" y2="572.89" stroke="#505050" stroke-width="1" />
<line x1="273.8" y1="557.52" x2="276" y2="557.52" stroke="#505050" stroke-width="1" />
<line x1="273.8" y1="542.15" x2="276" y2="542.15" stroke="#505050" stroke-width="1" />
<line x1="273.8" y1="526.78" x2="276" y2="526.78" stroke="#505050" stroke-width="1" />
<line x1="273.8" y1="511.41" x2="276" y2="511.41" stroke="#505050" stroke-width="1" />
<line x1="273.8" y1="496.04" x2="276" y2="496.04" stroke="#505050" stroke-width="1" />
<line x1="273.8" y1="480.67" x2="276" y2="480.67" stroke="#505050" stroke-width="1" />
<line x1="273.8" y1="465.3" x2="276" y2="465.3" stroke="#505050" stroke-width="1" />
<line x1="273.8" y1="449.93" x2="276" y2="449.93" stroke="#505050" stroke-width="1" />
<line x1="276.148" y1="636.3" x2="276.148" y2="638.0999999999999" stroke="#505050" stroke-width="1" />
<line x1="285.124" y1="636.3" x2="285.124" y2="638.0999999999999" stroke="#505050" stroke-width="1" />
<line x1="294.1" y1="636.3" x2="294.1" y2="638.0999999999999" stroke="#505050" stroke-width="1" />
<line x1="303.076" y1="636.3" x2="303.076" y2="638.0999999999999" stroke="#505050" stroke-width="1" />
<line x1="312.052" y1="636.3" x2="312.052" y2="638.0999999999999" stroke="#505050" stroke-width="1" />
<line x1="321.028" y1="636.3" x2="321.028" y2="638.0999999999999" stroke="#505050" stroke-width="1" />
<line x1="330.004" y1="636.3" x2="330.004" y2="638.0999999999999" stroke="#505050" stroke-width="1" />
<line x1="338.98" y1="636.3" x2="338.98" y2="638.0999999999999" stroke="#505050" stroke-width="1" />
<line x1="347.956" y1="636.3" x2="347.956" y2="638.0999999999999" stroke="#505050" stroke-width="1" />
<line x1="356.932" y1="636.3" x2="356.932" y2="638.0999999999999" stroke="#505050" stroke-width="1" />
<line x1="365.908" y1="636.3" x2="365.908" y2="638.0999999999999" stroke="#505050" stroke-width="1" />
<line x1="374.884" y1="636.3" x2="374.884" y2="638.0999999999999" stroke="#505050" stroke-width="1" />
<line x1="383.86" y1="636.3" x2="383.86" y2="638.0999999999999" stroke="#505050" stroke-width="1" />
<line x1="392.836" y1="636.3" x2="392.836" y2="638.0999999999999" stroke="#505050" stroke-width="1" />
<line x1="401.812" y1="636.3" x2="401.812" y2="638.0999999999999" stroke="#505050" stroke-width="1" />
<line x1="410.788" y1="636.3" x2="410.788" y2="638.0999999999999" stroke="#505050" stroke-width="1" />
<line x1="419.764" y1="636.3" x2="419.764" y2="638.0999999999999" stroke="#505050" stroke-width="1" />
<line x1="428.74" y1="636.3" x2="428.74" y2="638.0999999999999" stroke="#505050" stroke-width="1" />
<line x1="437.716" y1="636.3" x2="437.716" y2="638.0999999999999" stroke="#505050" stroke-width="1" />
<line x1="446.692" y1="636.3" x2="446.692" y2="638.0999999999999" stroke="#505050" stroke-width="1" />
<line x1="455.668" y1="636.3" x2="455.668" y2="638.0999999999999" stroke="#505050" stroke-width="1" />
<line x1="464.644" y1="636.3" x2="464.644" y2="638.0999999999999" stroke="#505050" stroke-width="1" />
<line x1="473.62" y1="636.3" x2="473.62" y2="638.0999999999999" stroke="#505050" stroke-width="1" />
<line x1="482.596" y1="636.3" x2="482.596" y2="638.0999999999999" stroke="#505050" stroke-width="1" />
<text x="270" y="468.1" font-size="7.6" fill="#2c2c3a" text-anchor="end" font-weight="normal">100</text>
<text x="270" y="544.9499999999999" font-size="7.6" fill="#2c2c3a" text-anchor="end" font-weight="normal">50</text>
<text x="270" y="621.8" font-size="7.6" fill="#2c2c3a" text-anchor="end" font-weight="normal">0</text>
<text x="294.1" y="650" font-size="7.6" fill="#2c2c3a" text-anchor="middle" font-weight="normal">15</text>
<text x="338.98" y="650" font-size="7.6" fill="#2c2c3a" text-anchor="middle" font-weight="normal">20</text>
<text x="383.86" y="650" font-size="7.6" fill="#2c2c3a" text-anchor="middle" font-weight="normal">25</text>
<text x="428.74" y="650" font-size="7.6" fill="#2c2c3a" text-anchor="middle" font-weight="normal">30</text>
<text x="473.62" y="650" font-size="7.6" fill="#2c2c3a" text-anchor="middle" font-weight="normal">35</text>
<text x="350.3" y="679" font-size="7.8" fill="#2c2c3a" text-anchor="start" font-weight="normal" textLength="54.6" lengthAdjust="spacingAndGlyphs">LV Volume (mS)</text>
<rect x="277" y="669.8" width="12" height="11.8" fill="#fff" stroke="#3e6d96" stroke-width="0.9" rx="0.8"/>
<rect x="289" y="669.8" width="12" height="11.8" fill="#fff" stroke="#3e6d96" stroke-width="0.9" rx="0.8"/>
<line x1="280" y1="675.6999999999999" x2="286" y2="675.6999999999999" stroke="#111" stroke-width="1.3" />
<line x1="292" y1="675.6999999999999" x2="298" y2="675.6999999999999" stroke="#111" stroke-width="1.3" />
<line x1="295" y1="672.6999999999999" x2="295" y2="678.6999999999999" stroke="#111" stroke-width="1.3" />
<rect x="469.5" y="669.5" width="11.6" height="11.4" fill="#fff" stroke="#3e6d96" stroke-width="0.9"/>
<path d="M472.3,673.5 L478.3,673.5 L475.3,677.1 Z" fill="#111"/>
<svg x="276" y="440" width="206" height="196" overflow="hidden"><g transform="translate(-276,-440)">
<line x1="275.8" y1="632" x2="344.2" y2="441.4" stroke="#e07878" stroke-width="0.9" />
<line x1="276" y1="627.3" x2="482" y2="593.4" stroke="#2c98b8" stroke-width="0.9" />
<line x1="309.5" y1="508.5" x2="303" y2="540" stroke="#b0b0b0" stroke-width="0.6" />
<line x1="309.5" y1="508.5" x2="312" y2="518" stroke="#b0b0b0" stroke-width="0.6" />
<path d="M328.5,482.6 C330.1,478.8 328.5,482.0 332.0,481.0 C335.5,480.0 334.7,480.1 340.2,479.3 C345.7,478.5 342.1,479.7 350.4,478.3 C358.7,476.9 360.1,474.7 367.8,474.7 C375.5,474.7 371.4,474.9 376.0,478.3 C380.6,481.7 379.9,481.9 383.0,486.0 C386.1,490.1 385.0,484.8 386.5,492.0 C388.0,499.2 387.1,489.6 388.0,510.0 C388.9,530.4 388.6,534.5 389.5,560.0 C390.4,585.5 389.9,582.4 391.0,595.0 C392.1,607.6 391.5,599.1 393.0,602.0 C394.5,604.9 415.6,601.4 396.0,604.5 C376.4,607.6 349.8,610.5 327.8,612.5 C305.8,614.5 324.7,613.8 322.8,611.0 C320.9,608.2 321.1,619.9 321.5,603.2 C321.9,586.5 322.5,588.3 324.1,555.4 C325.7,522.5 325.4,515.4 326.7,493.6 C328.0,471.8 326.9,486.4 328.5,482.6 Z" fill="none" stroke="#111" stroke-width="0.75"/>
<path d="M324.8,492.1 C326.3,488.4 324.5,491.6 328.1,490.6 C331.7,489.5 331.2,489.6 336.9,488.6 C342.6,487.6 338.8,488.8 347.1,487.3 C355.4,485.7 357.0,483.6 364.5,483.5 C372.0,483.4 367.7,483.8 372.0,486.9 C376.3,490.1 375.9,490.1 378.9,494.1 C382.0,498.2 380.8,493.8 382.1,500.5 C383.4,507.2 382.6,498.4 383.3,516.5 C383.9,534.5 383.5,537.2 384.3,560.6 C385.2,584.1 384.8,582.1 386.1,594.7 C387.5,607.3 387.0,599.4 388.8,602.6 C390.6,605.9 411.2,604.1 392.1,605.6 C373.0,607.2 346.8,607.6 325.2,607.8 C303.7,608.0 322.1,609.1 320.2,606.3 C318.3,603.5 318.7,613.1 318.9,598.5 C319.2,584.0 320.0,586.4 321.2,557.8 C322.4,529.2 321.9,522.9 323.0,503.1 C324.0,483.4 323.2,495.9 324.8,492.1 Z" fill="none" stroke="#111" stroke-width="0.75"/>
<path d="M321.8,499.7 C323.3,495.9 321.3,499.3 325.0,498.1 C328.8,497.0 328.4,497.1 334.3,496.0 C340.1,494.8 336.2,496.0 344.5,494.3 C352.8,492.7 354.6,490.6 361.9,490.4 C369.2,490.3 364.7,490.7 368.9,493.8 C373.0,496.8 372.8,496.5 375.7,500.5 C378.7,504.5 377.5,500.8 378.7,507.2 C379.8,513.5 379.1,505.4 379.6,521.6 C380.0,537.8 379.4,539.3 380.2,561.2 C381.0,583.0 380.7,581.8 382.3,594.4 C383.9,607.0 383.4,599.5 385.4,603.2 C387.5,606.8 407.8,603.6 389.0,606.5 C370.3,609.5 344.3,611.6 323.0,613.1 C301.7,614.6 319.9,614.3 318.0,611.6 C316.1,608.8 316.5,618.0 316.7,603.8 C316.9,589.6 317.7,592.1 318.7,564.2 C319.7,536.3 319.1,530.0 320.0,510.7 C321.0,491.3 320.3,503.4 321.8,499.7 Z" fill="none" stroke="#111" stroke-width="0.75"/>
<path d="M318.9,507.2 C320.3,503.5 318.1,506.9 322.0,505.7 C325.8,504.5 325.7,504.6 331.7,503.3 C337.6,502.0 333.6,503.2 341.9,501.4 C350.1,499.6 352.1,497.6 359.3,497.4 C366.4,497.1 361.7,497.7 365.7,500.6 C369.7,503.4 369.7,502.9 372.5,506.9 C375.4,510.9 374.2,507.9 375.2,513.8 C376.2,519.8 375.6,512.4 375.9,526.7 C376.1,541.1 375.3,541.4 376.1,561.7 C376.9,581.9 376.6,581.6 378.4,594.2 C380.2,606.8 379.9,599.7 382.1,603.7 C384.4,607.7 403.6,606.0 386.0,607.4 C368.3,608.8 343.6,608.5 323.3,608.3 C303.0,608.1 320.2,609.6 318.3,606.8 C316.4,604.0 316.8,611.4 317.0,599.0 C317.1,586.6 318.6,589.8 318.7,565.6 C318.7,541.4 317.0,535.7 317.1,518.2 C317.1,500.7 317.4,511.0 318.9,507.2 Z" fill="none" stroke="#111" stroke-width="0.75"/>
<path d="M316.7,513.0 C318.1,509.3 315.8,512.7 319.7,511.5 C323.6,510.4 323.6,510.4 329.5,509.1 C335.5,507.8 331.4,508.9 339.6,507.1 C347.8,505.4 349.8,503.5 356.8,503.2 C363.7,502.9 359.0,503.5 362.8,506.2 C366.6,508.9 366.7,508.3 369.4,512.1 C372.2,516.0 371.0,513.4 371.9,519.1 C372.8,524.7 372.3,517.9 372.5,530.9 C372.7,543.8 371.8,543.3 372.6,562.2 C373.4,581.1 373.1,581.3 375.0,593.9 C377.0,606.4 376.6,599.7 379.0,604.0 C381.3,608.3 400.3,605.3 383.0,608.2 C365.6,611.1 341.3,612.4 321.2,613.5 C301.2,614.7 318.1,614.8 316.2,612.0 C314.4,609.2 314.9,616.5 314.9,604.2 C315.0,591.9 316.4,595.2 316.4,571.1 C316.4,547.1 314.8,541.5 314.9,524.0 C314.9,506.6 315.2,516.8 316.7,513.0 Z" fill="none" stroke="#111" stroke-width="0.75"/>
<path d="M315.5,516.6 C316.9,512.9 314.9,516.2 318.6,515.1 C322.4,514.0 322.3,514.2 327.9,513.0 C333.6,511.9 329.8,512.9 337.6,511.4 C345.4,509.9 347.3,508.3 353.9,508.1 C360.6,507.9 356.2,508.4 359.8,510.8 C363.3,513.1 363.2,512.5 365.7,516.0 C368.3,519.5 367.3,517.1 368.2,522.4 C369.2,527.8 368.5,521.8 368.9,533.9 C369.2,546.0 368.5,544.9 369.4,562.8 C370.3,580.7 370.0,581.1 371.8,593.5 C373.6,605.9 373.1,599.4 375.4,604.0 C377.7,608.6 395.4,606.0 379.4,608.9 C363.3,611.8 340.6,612.7 321.9,613.7 C303.2,614.7 318.8,615.0 316.9,612.2 C315.0,609.4 315.6,616.1 315.6,604.4 C315.6,592.6 317.5,596.0 316.9,573.0 C316.3,550.0 314.1,544.5 313.7,527.6 C313.2,510.7 314.0,520.4 315.5,516.6 Z" fill="none" stroke="#111" stroke-width="0.75"/>
<path d="M314.6,519.2 C316.1,515.5 314.2,518.7 317.8,517.7 C321.5,516.7 321.3,516.9 326.8,515.9 C332.3,514.9 328.6,515.8 336.1,514.5 C343.6,513.2 345.4,511.8 351.8,511.7 C358.3,511.5 354.2,512.0 357.5,514.1 C360.9,516.3 360.7,515.6 363.1,518.8 C365.5,522.0 364.6,519.7 365.6,524.9 C366.5,530.1 365.8,524.5 366.3,536.0 C366.7,547.5 366.1,546.1 367.1,563.2 C368.0,580.4 367.7,581.0 369.4,593.2 C371.1,605.4 370.5,599.1 372.8,604.0 C375.0,608.9 392.5,606.5 376.8,609.4 C361.0,612.3 338.7,612.9 320.3,613.8 C301.9,614.7 317.2,615.1 315.3,612.3 C313.4,609.5 314.0,615.9 314.0,604.5 C314.0,593.1 315.5,596.6 315.2,574.4 C314.8,552.1 313.0,546.8 312.8,530.2 C312.6,513.7 313.1,523.0 314.6,519.2 Z" fill="none" stroke="#111" stroke-width="0.75"/>
<path d="M313.7,521.9 C315.2,518.2 313.5,521.4 317.0,520.4 C320.6,519.5 320.3,519.6 325.6,518.8 C330.9,518.0 327.3,518.8 334.6,517.7 C341.8,516.7 343.5,515.4 349.7,515.3 C355.9,515.3 352.1,515.6 355.3,517.5 C358.4,519.4 358.0,518.7 360.3,521.7 C362.6,524.7 361.8,522.5 362.8,527.4 C363.8,532.4 363.0,527.4 363.6,538.3 C364.1,549.1 363.7,547.3 364.7,563.7 C365.7,580.0 365.3,580.8 366.9,592.9 C368.5,605.0 367.9,598.9 370.1,604.0 C372.2,609.1 389.5,607.0 374.1,609.9 C358.7,612.9 336.8,613.2 318.7,613.9 C300.6,614.7 315.6,615.2 313.7,612.4 C311.8,609.6 312.5,615.6 312.4,604.6 C312.3,593.6 313.5,597.3 313.4,575.8 C313.2,554.3 311.8,549.1 311.9,532.9 C312.0,516.8 312.2,525.7 313.7,521.9 Z" fill="none" stroke="#111" stroke-width="0.75"/>
<path d="M313.1,523.6 C314.7,519.9 313.0,523.0 316.5,522.1 C320.0,521.3 319.7,521.4 324.8,520.7 C330.0,520.0 326.5,520.7 333.6,519.7 C340.7,518.8 342.3,517.7 348.3,517.7 C354.4,517.6 350.7,517.9 353.8,519.7 C356.9,521.5 356.4,520.8 358.5,523.6 C360.7,526.3 360.0,524.2 361.0,529.0 C362.0,533.9 361.2,529.2 361.9,539.7 C362.5,550.2 362.1,548.0 363.1,563.9 C364.2,579.8 363.8,580.7 365.3,592.7 C366.9,604.7 366.2,598.7 368.4,604.0 C370.5,609.3 386.9,607.3 372.4,610.3 C357.8,613.3 337.0,613.3 319.8,614.0 C302.5,614.7 316.7,615.3 314.8,612.5 C312.9,609.7 313.6,615.5 313.5,604.7 C313.4,594.0 315.1,597.7 314.4,576.7 C313.8,555.7 311.7,550.6 311.3,534.6 C310.9,518.7 311.6,527.4 313.1,523.6 Z" fill="none" stroke="#111" stroke-width="0.75"/>
<path d="M312.5,525.4 C314.1,521.6 312.5,524.7 316.0,523.9 C319.4,523.0 319.1,523.2 324.1,522.6 C329.0,521.9 325.7,522.6 332.6,521.8 C339.5,521.0 341.1,520.0 347.0,520.0 C352.9,520.0 349.4,520.3 352.3,521.9 C355.3,523.5 354.7,522.8 356.8,525.4 C358.8,528.0 358.3,525.9 359.3,530.6 C360.3,535.4 359.4,531.1 360.1,541.1 C360.8,551.2 360.5,548.8 361.6,564.2 C362.7,579.6 362.2,580.6 363.7,592.5 C365.3,604.4 364.6,598.6 366.6,604.0 C368.7,609.4 385.1,607.6 370.6,610.6 C356.2,613.6 335.6,613.5 318.4,614.1 C301.2,614.7 315.3,615.4 313.4,612.6 C311.5,609.8 312.2,615.3 312.1,604.8 C311.9,594.3 313.3,598.1 312.9,577.6 C312.5,557.1 310.9,552.0 310.7,536.4 C310.6,520.7 311.0,529.1 312.5,525.4 Z" fill="none" stroke="#111" stroke-width="0.75"/>
<path d="M312.0,527.0 C313.6,523.3 312.1,526.3 315.5,525.5 C318.9,524.7 318.5,524.9 323.3,524.3 C328.2,523.8 325.0,524.4 331.7,523.7 C338.4,523.1 339.9,522.2 345.7,522.2 C351.4,522.3 348.1,522.5 350.9,524.0 C353.8,525.5 353.1,524.7 355.1,527.2 C357.1,529.6 356.5,527.6 357.6,532.2 C358.6,536.8 357.7,532.8 358.5,542.5 C359.3,552.2 359.0,549.6 360.2,564.5 C361.3,579.4 360.8,580.5 362.2,592.3 C363.7,604.2 363.0,598.4 365.0,604.0 C367.0,609.6 382.6,607.9 369.0,610.9 C355.3,614.0 335.8,613.6 319.5,614.2 C303.1,614.7 316.4,615.5 314.5,612.7 C312.6,609.9 313.4,615.1 313.2,604.9 C313.0,594.6 314.8,598.5 313.9,578.4 C313.0,558.4 310.8,553.4 310.2,538.0 C309.6,522.6 310.4,530.8 312.0,527.0 Z" fill="none" stroke="#111" stroke-width="0.75"/>
<path d="M311.4,528.7 C313.1,524.9 311.7,527.9 315.0,527.2 C318.3,526.4 317.9,526.6 322.6,526.1 C327.3,525.7 324.2,526.2 330.8,525.7 C337.3,525.2 338.7,524.4 344.4,524.5 C350.0,524.6 346.8,524.7 349.5,526.1 C352.2,527.4 351.5,526.7 353.4,529.0 C355.3,531.2 354.8,529.3 355.9,533.7 C356.9,538.2 356.0,534.6 356.8,543.9 C357.7,553.2 357.5,550.3 358.7,564.8 C359.9,579.3 359.3,580.4 360.7,592.1 C362.1,603.9 361.4,598.3 363.3,604.0 C365.3,609.7 380.9,608.2 367.3,611.2 C353.8,614.3 334.4,613.8 318.1,614.2 C301.8,614.7 315.0,615.5 313.1,612.7 C311.2,609.9 312.0,615.0 311.8,604.9 C311.6,594.9 313.1,598.9 312.5,579.3 C311.8,559.7 310.0,554.8 309.6,539.7 C309.3,524.5 309.8,532.4 311.4,528.7 Z" fill="none" stroke="#111" stroke-width="0.75"/>
<path d="M311.0,530.0 C312.6,526.2 311.3,529.2 314.6,528.5 C317.9,527.8 317.4,528.0 322.0,527.6 C326.6,527.2 323.6,527.7 330.0,527.3 C336.4,526.9 337.8,526.1 343.3,526.3 C348.8,526.4 345.8,526.6 348.4,527.8 C351.0,529.0 350.2,528.2 352.0,530.4 C353.8,532.6 353.4,530.6 354.5,535.0 C355.6,539.4 354.6,536.0 355.5,545.0 C356.4,554.0 356.3,550.9 357.5,565.0 C358.7,579.1 358.1,580.3 359.5,592.0 C360.9,603.7 360.1,598.1 362.0,604.0 C363.9,609.9 379.6,608.4 366.0,611.5 C352.4,614.6 333.1,613.9 316.8,614.3 C300.5,614.7 313.7,615.6 311.8,612.8 C309.9,610.0 310.7,614.8 310.5,605.0 C310.3,595.2 311.5,599.2 311.1,580.0 C310.7,560.8 309.2,556.0 309.2,541.0 C309.2,526.0 309.4,533.8 311.0,530.0 Z" fill="none" stroke="#1010d0" stroke-width="1.8"/>
<path d="M310,533 L309.5,600 L312.5,613" stroke="#0a0a70" stroke-width="2.6" fill="none"/>
<path d="M309.5,528.5 L312.5,531.5 M309.5,531.5 L312.5,528.5" stroke="#ff2020" stroke-width="1.1"/>
<path d="M364.6,610.1 L367.4,612.9 M364.6,612.9 L367.4,610.1" stroke="#30c8f0" stroke-width="1.3"/>
<path d="M309.948374641923,527.154876074231 L312.948374641923,530.154876074231 M309.948374641923,530.154876074231 L312.948374641923,527.154876074231" stroke="#ff2020" stroke-width="1.1"/>
<path d="M365.94512392576905,609.8384481255449 L368.745123925769,612.6384481255449 M365.94512392576905,612.6384481255449 L368.745123925769,609.8384481255449" stroke="#30c8f0" stroke-width="1.3"/>
<path d="M310.4963880931623,525.5108357205131 L313.4963880931623,528.5108357205131 M310.4963880931623,528.5108357205131 L313.4963880931623,525.5108357205131" stroke="#ff2020" stroke-width="1.1"/>
<path d="M367.5891642794869,609.518773612322 L370.38916427948686,612.3187736123219 M367.5891642794869,612.3187736123219 L370.38916427948686,609.518773612322" stroke="#30c8f0" stroke-width="1.3"/>
<path d="M311.0444015444015,523.8667953667954 L314.0444015444015,526.8667953667954 M311.0444015444015,526.8667953667954 L314.0444015444015,523.8667953667954" stroke="#ff2020" stroke-width="1.1"/>
<path d="M369.2332046332046,609.1990990990992 L372.03320463320455,611.9990990990991 M369.2332046332046,611.9990990990991 L372.03320463320455,609.1990990990992" stroke="#30c8f0" stroke-width="1.3"/>
<path d="M311.6173246979699,522.1480259060904 L314.6173246979699,525.1480259060904 M311.6173246979699,525.1480259060904 L314.6173246979699,522.1480259060904" stroke="#ff2020" stroke-width="1.1"/>
<path d="M370.9519740939096,608.8648939261843 L373.75197409390955,611.6648939261843 M370.9519740939096,611.6648939261843 L373.75197409390955,608.8648939261843" stroke="#30c8f0" stroke-width="1.3"/>
<path d="M312.1902478515382,520.4292564453855 L315.1902478515382,523.4292564453855 M312.1902478515382,523.4292564453855 L315.1902478515382,520.4292564453855" stroke="#ff2020" stroke-width="1.1"/>
<path d="M372.67074355461455,608.5306887532694 L375.4707435546145,611.3306887532693 M372.67074355461455,611.3306887532693 L375.4707435546145,608.5306887532694" stroke="#30c8f0" stroke-width="1.3"/>
<path d="M313.08699713538425,517.7390085938473 L316.08699713538425,520.7390085938473 M313.08699713538425,520.7390085938473 L316.08699713538425,517.7390085938473" stroke="#ff2020" stroke-width="1.1"/>
<path d="M375.3609914061527,608.0075850043593 L378.1609914061527,610.8075850043592 M375.3609914061527,610.8075850043592 L378.1609914061527,608.0075850043593" stroke="#30c8f0" stroke-width="1.3"/>
<path d="M313.95883671690126,515.1234898492963 L316.95883671690126,518.1234898492963 M313.95883671690126,518.1234898492963 L316.95883671690126,515.1234898492963" stroke="#ff2020" stroke-width="1.1"/>
<path d="M377.9765101507037,607.499011915141 L380.77651015070364,610.2990119151409 M377.9765101507037,610.2990119151409 L380.77651015070364,607.499011915141" stroke="#30c8f0" stroke-width="1.3"/>
<path d="M315.154502428696,511.536492713912 L318.154502428696,514.536492713912 M315.154502428696,514.536492713912 L318.154502428696,511.536492713912" stroke="#ff2020" stroke-width="1.1"/>
<path d="M381.56350728608794,606.8015402499274 L384.3635072860879,609.6015402499273 M381.56350728608794,609.6015402499273 L384.3635072860879,606.8015402499274" stroke="#30c8f0" stroke-width="1.3"/>
<path d="M317.37274925125394,505.7122758272291 L320.37274925125394,508.7122758272291 M317.37274925125394,508.7122758272291 L320.37274925125394,505.7122758272291" stroke="#ff2020" stroke-width="1.1"/>
<path d="M384.55417313174325,606.030032836575 L387.3541731317432,608.8300328365749 M384.55417313174325,608.8300328365749 L387.3541731317432,606.030032836575" stroke="#30c8f0" stroke-width="1.3"/>
<path d="M320.319019954534,498.18007072493054 L323.319019954534,501.18007072493054 M320.319019954534,501.18007072493054 L323.319019954534,498.18007072493054" stroke="#ff2020" stroke-width="1.1"/>
<path d="M387.62854256125286,605.1333417529679 L390.4285425612528,607.9333417529679 M387.62854256125286,607.9333417529679 L390.4285425612528,605.1333417529679" stroke="#30c8f0" stroke-width="1.3"/>
<path d="M323.26529065781403,490.647865622632 L326.26529065781403,493.647865622632 M323.26529065781403,493.647865622632 L326.26529065781403,490.647865622632" stroke="#ff2020" stroke-width="1.1"/>
<path d="M390.70291199076246,604.236650669361 L393.5029119907624,607.0366506693609 M390.70291199076246,607.0366506693609 L393.5029119907624,604.236650669361" stroke="#30c8f0" stroke-width="1.3"/>
<path d="M327.0,481.1 L330.0,484.1 M327.0,484.1 L330.0,481.1" stroke="#ff2020" stroke-width="1.1"/>
<path d="M394.6,603.1 L397.4,605.9 M394.6,605.9 L397.4,603.1" stroke="#30c8f0" stroke-width="1.3"/>
</g></svg>
<rect x="470.4" y="392" width="29.5" height="27.4" fill="#000" />
<text x="485.15" y="410.02" font-size="12" fill="#fff" text-anchor="middle" font-weight="normal">D</text>
<line x1="562.4" y1="403.5" x2="685" y2="403.5" stroke="#9a9a9a" stroke-width="1" />
<line x1="562.4" y1="403.5" x2="562.4" y2="546" stroke="#9a9a9a" stroke-width="1" />
<line x1="562.4" y1="545.8" x2="682" y2="545.8" stroke="#9a9a9a" stroke-width="1" />
<line x1="562.4" y1="557.4" x2="685" y2="557.4" stroke="#9a9a9a" stroke-width="1" />
<line x1="562.4" y1="557.4" x2="562.4" y2="687.5" stroke="#9a9a9a" stroke-width="1" />
<line x1="562.4" y1="687.4" x2="682" y2="687.4" stroke="#9a9a9a" stroke-width="1" />
<line x1="560.3" y1="428.8" x2="562.4" y2="428.8" stroke="#9a9a9a" stroke-width="1" />
<line x1="560.3" y1="468.3" x2="562.4" y2="468.3" stroke="#9a9a9a" stroke-width="1" />
<line x1="560.3" y1="507.7" x2="562.4" y2="507.7" stroke="#9a9a9a" stroke-width="1" />
<line x1="560.3" y1="545.7" x2="562.4" y2="545.7" stroke="#9a9a9a" stroke-width="1" />
<line x1="560.3" y1="600.5" x2="562.4" y2="600.5" stroke="#9a9a9a" stroke-width="1" />
<line x1="560.3" y1="644.4" x2="562.4" y2="644.4" stroke="#9a9a9a" stroke-width="1" />
<line x1="560.3" y1="687.1" x2="562.4" y2="687.1" stroke="#9a9a9a" stroke-width="1" />
<line x1="598.3" y1="545.8" x2="598.3" y2="548.3" stroke="#9a9a9a" stroke-width="1" />
<line x1="598.3" y1="687.4" x2="598.3" y2="689.8" stroke="#9a9a9a" stroke-width="1" />
<line x1="652.3" y1="545.8" x2="652.3" y2="548.3" stroke="#9a9a9a" stroke-width="1" />
<line x1="652.3" y1="687.4" x2="652.3" y2="689.8" stroke="#9a9a9a" stroke-width="1" />
<text x="550.8" y="434.6" font-size="11.6" fill="#222" text-anchor="end" font-weight="normal">0.6</text>
<text x="550.8" y="474.5" font-size="11.6" fill="#222" text-anchor="end" font-weight="normal">0.4</text>
<text x="550.8" y="515.5" font-size="11.6" fill="#222" text-anchor="end" font-weight="normal">0.2</text>
<text x="550.8" y="551.9" font-size="11.6" fill="#222" text-anchor="end" font-weight="normal">.0</text>
<text x="550.8" y="602.2" font-size="11.6" fill="#222" text-anchor="end" font-weight="normal">1.4</text>
<text x="550.8" y="651.7" font-size="11.6" fill="#222" text-anchor="end" font-weight="normal">0.7</text>
<text x="550.8" y="696.2" font-size="11.6" fill="#222" text-anchor="end" font-weight="normal">.0</text>
<line x1="598.4" y1="438" x2="598.4" y2="441" stroke="#8a8a8a" stroke-width="1" />
<line x1="592.4" y1="438" x2="605" y2="438" stroke="#8a8a8a" stroke-width="1" />
<line x1="652.4" y1="411.4" x2="652.4" y2="419.4" stroke="#8a8a8a" stroke-width="1" />
<line x1="646" y1="411.4" x2="659" y2="411.4" stroke="#8a8a8a" stroke-width="1" />
<rect x="578.8" y="441.5" width="39.200000000000045" height="104.29999999999995" fill="#ff0000" stroke="#000" stroke-width="1.6"/>
<rect x="632.6" y="419.8" width="39.60000000000002" height="125.99999999999994" fill="#0000ff" stroke="#000" stroke-width="1.6"/>
<line x1="598" y1="601.4" x2="598" y2="613.6" stroke="#8a8a8a" stroke-width="1" />
<line x1="591.6" y1="601.4" x2="604.4" y2="601.4" stroke="#8a8a8a" stroke-width="1" />
<line x1="651.4" y1="642.4" x2="651.4" y2="649.4" stroke="#8a8a8a" stroke-width="1" />
<line x1="645" y1="642.4" x2="657.6" y2="642.4" stroke="#8a8a8a" stroke-width="1" />
<rect x="578.2" y="614" width="39.799999999999955" height="73.39999999999998" fill="#ff0000" stroke="#000" stroke-width="1.6"/>
<rect x="632" y="650" width="38.200000000000045" height="37.39999999999998" fill="#0000ff" stroke="#000" stroke-width="1.6"/>
<path d="M606.5,410.4 L606.5,405.8 L636.5,405.8 L636.5,410.4" fill="none" stroke="#444" stroke-width="1"/>
<path d="M608.5,597.4 L608.5,592.4 L639.5,592.4 L639.5,597.4" fill="none" stroke="#444" stroke-width="1"/>
<text x="605" y="397" font-size="10.5" fill="#222" text-anchor="start" font-weight="normal" textLength="31" lengthAdjust="spacingAndGlyphs">p=0.03</text>
<text x="607.6" y="585.6" font-size="10.5" fill="#222" text-anchor="start" font-weight="normal" textLength="31.4" lengthAdjust="spacingAndGlyphs">p=0.02</text>
<circle cx="572.8" cy="437.4" r="1.2" fill="none" stroke="#7a7a7a" stroke-width="0.75"/>
<circle cx="572.8" cy="443.6" r="1.2" fill="none" stroke="#7a7a7a" stroke-width="0.75"/>
<circle cx="572.8" cy="444.6" r="1.2" fill="none" stroke="#7a7a7a" stroke-width="0.75"/>
<circle cx="572.8" cy="447.4" r="1.2" fill="none" stroke="#7a7a7a" stroke-width="0.75"/>
<circle cx="572.8" cy="454.4" r="1.2" fill="none" stroke="#7a7a7a" stroke-width="0.75"/>
<circle cx="572.8" cy="482.6" r="1.2" fill="none" stroke="#7a7a7a" stroke-width="0.75"/>
<circle cx="625.6" cy="412" r="1.2" fill="none" stroke="#7a7a7a" stroke-width="0.75"/>
<circle cx="625.6" cy="417.4" r="1.2" fill="none" stroke="#7a7a7a" stroke-width="0.75"/>
<circle cx="625.6" cy="439.4" r="1.2" fill="none" stroke="#7a7a7a" stroke-width="0.75"/>
<circle cx="625.6" cy="450.4" r="1.2" fill="none" stroke="#7a7a7a" stroke-width="0.75"/>
<circle cx="625.6" cy="461" r="1.2" fill="none" stroke="#7a7a7a" stroke-width="0.75"/>
<circle cx="573.6" cy="560" r="1.2" fill="none" stroke="#7a7a7a" stroke-width="0.75"/>
<circle cx="573.6" cy="592.4" r="1.2" fill="none" stroke="#7a7a7a" stroke-width="0.75"/>
<circle cx="573.6" cy="608" r="1.2" fill="none" stroke="#7a7a7a" stroke-width="0.75"/>
<circle cx="573.6" cy="613.6" r="1.2" fill="none" stroke="#7a7a7a" stroke-width="0.75"/>
<circle cx="573.6" cy="618" r="1.2" fill="none" stroke="#7a7a7a" stroke-width="0.75"/>
<circle cx="573.6" cy="644" r="1.2" fill="none" stroke="#7a7a7a" stroke-width="0.75"/>
<circle cx="573.6" cy="656.4" r="1.2" fill="none" stroke="#7a7a7a" stroke-width="0.75"/>
<circle cx="626.6" cy="626.6" r="1.2" fill="none" stroke="#7a7a7a" stroke-width="0.75"/>
<circle cx="626.6" cy="635.6" r="1.2" fill="none" stroke="#7a7a7a" stroke-width="0.75"/>
<circle cx="626.6" cy="638" r="1.2" fill="none" stroke="#7a7a7a" stroke-width="0.75"/>
<circle cx="626.6" cy="640.4" r="1.2" fill="none" stroke="#7a7a7a" stroke-width="0.75"/>
<circle cx="626.6" cy="662.6" r="1.2" fill="none" stroke="#7a7a7a" stroke-width="0.75"/>
<circle cx="626.6" cy="668" r="1.2" fill="none" stroke="#7a7a7a" stroke-width="0.75"/>
<circle cx="626.6" cy="674" r="1.2" fill="none" stroke="#7a7a7a" stroke-width="0.75"/>
<line x1="674.4" y1="403.4" x2="674.4" y2="691" stroke="#333" stroke-width="1.2" />
<text x="583.9" y="718.8" font-size="14" fill="#111" text-anchor="start" font-weight="normal" textLength="25" lengthAdjust="spacingAndGlyphs">PBS</text>
<text x="624.2" y="718.8" font-size="14" fill="#111" text-anchor="start" font-weight="normal" textLength="51.2" lengthAdjust="spacingAndGlyphs">CDC-EV</text>
<text x="521.5" y="539.3" font-size="14.2" fill="#111" text-anchor="start" font-weight="normal" textLength="120.7" lengthAdjust="spacingAndGlyphs" transform="rotate(-90 521.5 539.3)">Cardiac Efficiency</text>
<text x="520.2" y="686" font-size="14.2" fill="#111" text-anchor="start" font-weight="normal" textLength="131.2" lengthAdjust="spacingAndGlyphs" transform="rotate(-90 520.2 686)">EDPVR (mmHg/uL)</text></svg>
</body></html>
